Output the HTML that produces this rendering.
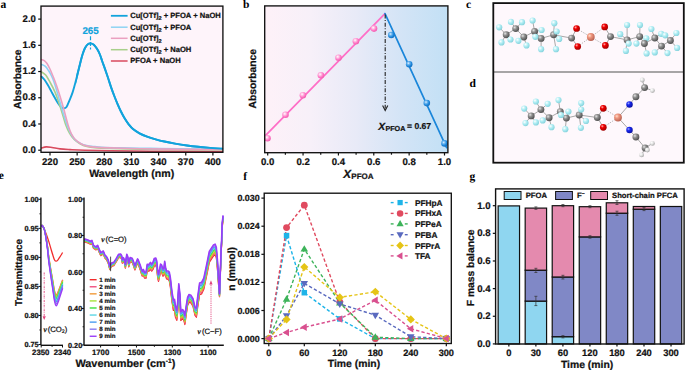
<!DOCTYPE html>
<html><head><meta charset="utf-8"><title>Figure</title>
<style>html,body{margin:0;padding:0;background:#fff;width:685px;height:370px;overflow:hidden}svg{display:block}</style>
</head><body>
<svg width="685" height="370" viewBox="0 0 685 370" font-family="Liberation Sans" text-rendering="geometricPrecision">
<rect x="0" y="0" width="685" height="370" fill="#fff"/>
<defs>
<linearGradient id="bgb" x1="0" y1="0" x2="1" y2="0">
<stop offset="0" stop-color="#FEF1F8"/><stop offset="0.25" stop-color="#F7F0F9"/><stop offset="0.5" stop-color="#E8EAF7"/><stop offset="0.75" stop-color="#D3E4F6"/><stop offset="1" stop-color="#C2E0F5"/>
</linearGradient>
<radialGradient id="sp_pink" cx="0.38" cy="0.35" r="0.65"><stop offset="0" stop-color="#FFFFFF"/><stop offset="0.3" stop-color="#FFC0E4"/><stop offset="0.7" stop-color="#FF74C4"/><stop offset="1" stop-color="#F060B0"/></radialGradient>
<radialGradient id="sp_blue" cx="0.38" cy="0.35" r="0.65"><stop offset="0" stop-color="#E0F0FF"/><stop offset="0.3" stop-color="#70B8F0"/><stop offset="0.7" stop-color="#1E88DC"/><stop offset="1" stop-color="#1570C0"/></radialGradient>
<radialGradient id="at_F" cx="0.35" cy="0.33" r="0.7"><stop offset="0" stop-color="#FFFFFF"/><stop offset="0.45" stop-color="#B2EEF4"/><stop offset="1" stop-color="#84D2DC"/></radialGradient>
<radialGradient id="at_C" cx="0.35" cy="0.33" r="0.7"><stop offset="0" stop-color="#E4E4E4"/><stop offset="0.4" stop-color="#8E8E8E"/><stop offset="1" stop-color="#4E4E4E"/></radialGradient>
<radialGradient id="at_O" cx="0.35" cy="0.33" r="0.7"><stop offset="0" stop-color="#FFB0B0"/><stop offset="0.35" stop-color="#F00000"/><stop offset="1" stop-color="#A00000"/></radialGradient>
<radialGradient id="at_Cu" cx="0.35" cy="0.33" r="0.7"><stop offset="0" stop-color="#FFE0D0"/><stop offset="0.35" stop-color="#F09880"/><stop offset="1" stop-color="#B86050"/></radialGradient>
<radialGradient id="at_N" cx="0.35" cy="0.33" r="0.7"><stop offset="0" stop-color="#A0A8FF"/><stop offset="0.35" stop-color="#1828F0"/><stop offset="1" stop-color="#0810A0"/></radialGradient>
<radialGradient id="at_H" cx="0.35" cy="0.33" r="0.7"><stop offset="0" stop-color="#FFFFFF"/><stop offset="0.4" stop-color="#E8E8E8"/><stop offset="1" stop-color="#A8A8A8"/></radialGradient>
</defs>
<rect x="41.00" y="6.10" width="181.90" height="146.20" fill="#FEF4FA"/>
<g fill="none" stroke-linejoin="round" stroke-linecap="round">
<clipPath id="cpa"><rect x="76" y="0" width="160" height="160"/></clipPath>
<path d="M41.60,76.70 C42.08,77.20 43.43,78.27 44.50,79.70 C45.57,81.13 46.85,83.32 48.00,85.30 C49.15,87.28 50.27,89.52 51.40,91.60 C52.53,93.68 53.67,95.82 54.80,97.80 C55.93,99.78 57.17,101.98 58.20,103.50 C59.23,105.02 60.05,106.10 61.00,106.90 C61.95,107.70 62.98,108.28 63.90,108.30 C64.82,108.32 65.57,108.33 66.50,107.00 C67.43,105.67 68.48,102.73 69.50,100.30 C70.52,97.87 71.62,95.37 72.60,92.40 C73.58,89.43 74.47,86.02 75.40,82.50 C76.33,78.98 77.32,74.85 78.20,71.30 C79.08,67.75 79.97,64.05 80.70,61.20 C81.43,58.35 81.90,56.37 82.60,54.20 C83.30,52.03 84.05,49.83 84.90,48.20 C85.75,46.57 86.77,45.20 87.70,44.40 C88.63,43.60 89.48,43.35 90.50,43.40 C91.52,43.45 92.72,43.80 93.80,44.70 C94.88,45.60 95.98,47.17 97.00,48.80 C98.02,50.43 99.02,52.38 99.90,54.50 C100.78,56.62 101.50,59.23 102.30,61.50 C103.10,63.77 103.75,65.38 104.70,68.10 C105.65,70.82 106.92,74.55 108.00,77.80 C109.08,81.05 110.12,84.48 111.20,87.60 C112.28,90.72 113.42,93.70 114.50,96.50 C115.58,99.30 116.67,101.98 117.70,104.40 C118.73,106.82 119.60,108.77 120.70,111.00 C121.80,113.23 122.97,115.58 124.30,117.80 C125.63,120.02 127.25,122.42 128.70,124.30 C130.15,126.18 131.20,127.60 133.00,129.10 C134.80,130.60 137.15,132.05 139.50,133.30 C141.85,134.55 144.40,135.60 147.10,136.60 C149.80,137.60 152.82,138.48 155.70,139.30 C158.58,140.12 161.18,140.78 164.40,141.50 C167.62,142.22 171.23,142.93 175.00,143.60 C178.77,144.27 183.17,144.97 187.00,145.50 C190.83,146.03 193.73,146.37 198.00,146.80 C202.27,147.23 208.57,147.78 212.60,148.10 C216.63,148.42 220.60,148.60 222.20,148.70" stroke="#12A3DC" stroke-width="1.9"/>
<path d="M41.60,148.10 C42.37,147.90 44.47,147.00 46.20,146.90 C47.93,146.80 49.70,147.17 52.00,147.50 C54.30,147.83 57.00,148.55 60.00,148.90 C63.00,149.25 65.83,149.37 70.00,149.60 C74.17,149.83 78.33,150.10 85.00,150.30 C91.67,150.50 99.17,150.65 110.00,150.80 C120.83,150.95 131.30,151.08 150.00,151.20 C168.70,151.32 210.17,151.45 222.20,151.50" stroke="#D94A5E" stroke-width="1.6"/>
<path d="M41.60,72.00 C42.28,72.52 44.27,73.35 45.70,75.10 C47.13,76.85 48.68,79.75 50.20,82.50 C51.72,85.25 53.47,88.57 54.80,91.60 C56.13,94.63 57.17,97.75 58.20,100.70 C59.23,103.65 60.12,106.50 61.00,109.30 C61.88,112.10 62.67,114.80 63.50,117.50 C64.33,120.20 65.00,122.88 66.00,125.50 C67.00,128.12 68.17,130.90 69.50,133.20 C70.83,135.50 72.25,137.53 74.00,139.30 C75.75,141.07 77.83,142.58 80.00,143.80 C82.17,145.02 84.50,145.93 87.00,146.60 C89.50,147.27 91.17,147.48 95.00,147.80 C98.83,148.12 102.50,148.28 110.00,148.50 C117.50,148.72 128.33,148.93 140.00,149.10 C151.67,149.27 166.30,149.38 180.00,149.50 C193.70,149.62 215.17,149.75 222.20,149.80" stroke="#A8CF8A" stroke-width="1.6"/>
<path d="M41.60,64.50 C42.23,64.82 44.25,65.40 45.40,66.40 C46.55,67.40 47.60,69.15 48.50,70.50 C49.40,71.85 50.05,73.03 50.80,74.50 C51.55,75.97 52.28,77.50 53.00,79.30 C53.72,81.10 54.30,82.77 55.10,85.30 C55.90,87.83 56.90,91.38 57.80,94.50 C58.70,97.62 59.63,101.00 60.50,104.00 C61.37,107.00 62.17,109.75 63.00,112.50 C63.83,115.25 64.67,118.00 65.50,120.50 C66.33,123.00 67.08,125.25 68.00,127.50 C68.92,129.75 69.83,131.98 71.00,134.00 C72.17,136.02 73.42,138.03 75.00,139.60 C76.58,141.17 78.57,142.42 80.50,143.40 C82.43,144.38 84.18,144.97 86.60,145.50 C89.02,146.03 92.48,146.32 95.00,146.60 C97.52,146.88 97.53,147.00 101.70,147.20 C105.87,147.40 111.95,147.60 120.00,147.80 C128.05,148.00 140.00,148.22 150.00,148.40 C160.00,148.58 167.97,148.77 180.00,148.90 C192.03,149.03 215.17,149.15 222.20,149.20" stroke="#8ED3F3" stroke-width="1.6"/>
<path d="M41.60,59.50 C42.05,59.68 43.40,59.93 44.30,60.60 C45.20,61.27 46.02,62.02 47.00,63.50 C47.98,64.98 49.28,67.58 50.20,69.50 C51.12,71.42 51.73,73.12 52.50,75.00 C53.27,76.88 53.85,78.22 54.80,80.80 C55.75,83.38 57.17,87.38 58.20,90.50 C59.23,93.62 60.05,96.33 61.00,99.50 C61.95,102.67 63.03,106.37 63.90,109.50 C64.77,112.63 65.42,115.42 66.20,118.30 C66.98,121.18 67.72,124.15 68.60,126.80 C69.48,129.45 70.43,132.12 71.50,134.20 C72.57,136.28 73.43,137.70 75.00,139.30 C76.57,140.90 78.97,142.70 80.90,143.80 C82.83,144.90 84.25,145.35 86.60,145.90 C88.95,146.45 91.10,146.77 95.00,147.10 C98.90,147.43 102.50,147.63 110.00,147.90 C117.50,148.17 128.33,148.48 140.00,148.70 C151.67,148.92 166.30,149.07 180.00,149.20 C193.70,149.33 215.17,149.45 222.20,149.50" stroke="#EBA0C0" stroke-width="1.6"/>
<path d="M41.60,76.70 C42.08,77.20 43.43,78.27 44.50,79.70 C45.57,81.13 46.85,83.32 48.00,85.30 C49.15,87.28 50.27,89.52 51.40,91.60 C52.53,93.68 53.67,95.82 54.80,97.80 C55.93,99.78 57.17,101.98 58.20,103.50 C59.23,105.02 60.05,106.10 61.00,106.90 C61.95,107.70 62.98,108.28 63.90,108.30 C64.82,108.32 65.57,108.33 66.50,107.00 C67.43,105.67 68.48,102.73 69.50,100.30 C70.52,97.87 71.62,95.37 72.60,92.40 C73.58,89.43 74.47,86.02 75.40,82.50 C76.33,78.98 77.32,74.85 78.20,71.30 C79.08,67.75 79.97,64.05 80.70,61.20 C81.43,58.35 81.90,56.37 82.60,54.20 C83.30,52.03 84.05,49.83 84.90,48.20 C85.75,46.57 86.77,45.20 87.70,44.40 C88.63,43.60 89.48,43.35 90.50,43.40 C91.52,43.45 92.72,43.80 93.80,44.70 C94.88,45.60 95.98,47.17 97.00,48.80 C98.02,50.43 99.02,52.38 99.90,54.50 C100.78,56.62 101.50,59.23 102.30,61.50 C103.10,63.77 103.75,65.38 104.70,68.10 C105.65,70.82 106.92,74.55 108.00,77.80 C109.08,81.05 110.12,84.48 111.20,87.60 C112.28,90.72 113.42,93.70 114.50,96.50 C115.58,99.30 116.67,101.98 117.70,104.40 C118.73,106.82 119.60,108.77 120.70,111.00 C121.80,113.23 122.97,115.58 124.30,117.80 C125.63,120.02 127.25,122.42 128.70,124.30 C130.15,126.18 131.20,127.60 133.00,129.10 C134.80,130.60 137.15,132.05 139.50,133.30 C141.85,134.55 144.40,135.60 147.10,136.60 C149.80,137.60 152.82,138.48 155.70,139.30 C158.58,140.12 161.18,140.78 164.40,141.50 C167.62,142.22 171.23,142.93 175.00,143.60 C178.77,144.27 183.17,144.97 187.00,145.50 C190.83,146.03 193.73,146.37 198.00,146.80 C202.27,147.23 208.57,147.78 212.60,148.10 C216.63,148.42 220.60,148.60 222.20,148.70" stroke="#12A3DC" stroke-width="1.9" clip-path="url(#cpa)"/>
</g>
<line x1="90.50" y1="36.20" x2="90.50" y2="49.60" stroke="#12A3DC" stroke-width="1.20" stroke-dasharray="4.1,1.6"/>
<text x="90.60" y="34.10" font-size="9.80" text-anchor="middle" font-weight="bold" fill="#12A3DC" font-family="Liberation Sans" font-style="normal" stroke="#12A3DC" stroke-width="0.22" >265</text>
<line x1="110.90" y1="15.80" x2="127.60" y2="15.80" stroke="#12A3DC" stroke-width="1.80" />
<text x="130.20" y="18.20" font-size="7.60" text-anchor="start" font-weight="bold" fill="#111" font-family="Liberation Sans" font-style="normal" stroke="#111" stroke-width="0.22" >Cu[OTf]<tspan font-size="5.6" dy="1.9">2</tspan><tspan dy="-1.9"> + PFOA + NaOH</tspan></text>
<line x1="110.90" y1="27.20" x2="127.60" y2="27.20" stroke="#8ED3F3" stroke-width="1.50" />
<text x="130.20" y="29.60" font-size="7.60" text-anchor="start" font-weight="bold" fill="#111" font-family="Liberation Sans" font-style="normal" stroke="#111" stroke-width="0.22" >Cu[OTf]<tspan font-size="5.6" dy="1.9">2</tspan><tspan dy="-1.9"> + PFOA</tspan></text>
<line x1="110.90" y1="38.30" x2="127.60" y2="38.30" stroke="#EBA0C0" stroke-width="1.50" />
<text x="130.20" y="40.70" font-size="7.60" text-anchor="start" font-weight="bold" fill="#111" font-family="Liberation Sans" font-style="normal" stroke="#111" stroke-width="0.22" >Cu[OTf]<tspan font-size="5.6" dy="1.9">2</tspan></text>
<line x1="110.90" y1="49.70" x2="127.60" y2="49.70" stroke="#A8CF8A" stroke-width="1.50" />
<text x="130.20" y="52.10" font-size="7.60" text-anchor="start" font-weight="bold" fill="#111" font-family="Liberation Sans" font-style="normal" stroke="#111" stroke-width="0.22" >Cu[OTf]<tspan font-size="5.6" dy="1.9">2</tspan><tspan dy="-1.9"> + NaOH</tspan></text>
<line x1="110.90" y1="61.00" x2="127.60" y2="61.00" stroke="#D94A5E" stroke-width="1.50" />
<text x="130.20" y="63.40" font-size="7.60" text-anchor="start" font-weight="bold" fill="#111" font-family="Liberation Sans" font-style="normal" stroke="#111" stroke-width="0.22" >PFOA + NaOH</text>
<rect x="41.00" y="6.10" width="181.90" height="146.20" fill="none" stroke="#111" stroke-width="1.35"/>
<line x1="38.20" y1="150.20" x2="41.00" y2="150.20" stroke="#111" stroke-width="1.20" />
<text x="35.90" y="152.80" font-size="9.60" text-anchor="end" font-weight="bold" fill="#111" font-family="Liberation Sans" font-style="normal" stroke="#111" stroke-width="0.22" >0.0</text>
<line x1="38.20" y1="123.98" x2="41.00" y2="123.98" stroke="#111" stroke-width="1.20" />
<text x="35.90" y="126.58" font-size="9.60" text-anchor="end" font-weight="bold" fill="#111" font-family="Liberation Sans" font-style="normal" stroke="#111" stroke-width="0.22" >0.4</text>
<line x1="38.20" y1="97.76" x2="41.00" y2="97.76" stroke="#111" stroke-width="1.20" />
<text x="35.90" y="100.36" font-size="9.60" text-anchor="end" font-weight="bold" fill="#111" font-family="Liberation Sans" font-style="normal" stroke="#111" stroke-width="0.22" >0.8</text>
<line x1="38.20" y1="71.54" x2="41.00" y2="71.54" stroke="#111" stroke-width="1.20" />
<text x="35.90" y="74.14" font-size="9.60" text-anchor="end" font-weight="bold" fill="#111" font-family="Liberation Sans" font-style="normal" stroke="#111" stroke-width="0.22" >1.2</text>
<line x1="38.20" y1="45.32" x2="41.00" y2="45.32" stroke="#111" stroke-width="1.20" />
<text x="35.90" y="47.92" font-size="9.60" text-anchor="end" font-weight="bold" fill="#111" font-family="Liberation Sans" font-style="normal" stroke="#111" stroke-width="0.22" >1.6</text>
<line x1="38.20" y1="19.10" x2="41.00" y2="19.10" stroke="#111" stroke-width="1.20" />
<text x="35.90" y="21.70" font-size="9.60" text-anchor="end" font-weight="bold" fill="#111" font-family="Liberation Sans" font-style="normal" stroke="#111" stroke-width="0.22" >2.0</text>
<line x1="50.00" y1="152.30" x2="50.00" y2="155.60" stroke="#111" stroke-width="1.20" />
<text x="50.00" y="165.00" font-size="9.60" text-anchor="middle" font-weight="bold" fill="#111" font-family="Liberation Sans" font-style="normal" stroke="#111" stroke-width="0.22" >220</text>
<line x1="77.15" y1="152.30" x2="77.15" y2="155.60" stroke="#111" stroke-width="1.20" />
<text x="77.15" y="165.00" font-size="9.60" text-anchor="middle" font-weight="bold" fill="#111" font-family="Liberation Sans" font-style="normal" stroke="#111" stroke-width="0.22" >250</text>
<line x1="104.30" y1="152.30" x2="104.30" y2="155.60" stroke="#111" stroke-width="1.20" />
<text x="104.30" y="165.00" font-size="9.60" text-anchor="middle" font-weight="bold" fill="#111" font-family="Liberation Sans" font-style="normal" stroke="#111" stroke-width="0.22" >280</text>
<line x1="131.45" y1="152.30" x2="131.45" y2="155.60" stroke="#111" stroke-width="1.20" />
<text x="131.45" y="165.00" font-size="9.60" text-anchor="middle" font-weight="bold" fill="#111" font-family="Liberation Sans" font-style="normal" stroke="#111" stroke-width="0.22" >310</text>
<line x1="158.60" y1="152.30" x2="158.60" y2="155.60" stroke="#111" stroke-width="1.20" />
<text x="158.60" y="165.00" font-size="9.60" text-anchor="middle" font-weight="bold" fill="#111" font-family="Liberation Sans" font-style="normal" stroke="#111" stroke-width="0.22" >340</text>
<line x1="185.75" y1="152.30" x2="185.75" y2="155.60" stroke="#111" stroke-width="1.20" />
<text x="185.75" y="165.00" font-size="9.60" text-anchor="middle" font-weight="bold" fill="#111" font-family="Liberation Sans" font-style="normal" stroke="#111" stroke-width="0.22" >370</text>
<line x1="212.90" y1="152.30" x2="212.90" y2="155.60" stroke="#111" stroke-width="1.20" />
<text x="212.90" y="165.00" font-size="9.60" text-anchor="middle" font-weight="bold" fill="#111" font-family="Liberation Sans" font-style="normal" stroke="#111" stroke-width="0.22" >400</text>
<text x="131.70" y="176.60" font-size="10.60" text-anchor="middle" font-weight="bold" fill="#111" font-family="Liberation Sans" font-style="normal" stroke="#111" stroke-width="0.22" >Wavelength (nm)</text>
<text x="0.00" y="0.00" font-size="10.30" text-anchor="middle" font-weight="bold" fill="#111" font-family="Liberation Sans" font-style="normal" stroke="#111" stroke-width="0.22" transform="translate(21.3,79.2) rotate(-90)">Absorbance</text>
<text x="0.60" y="7.60" font-size="11.5" font-weight="bold" font-family="Liberation Serif" fill="#000">a</text>
<rect x="264.70" y="5.90" width="183.20" height="146.80" fill="url(#bgb)"/>
<line x1="264.90" y1="136.20" x2="385.00" y2="13.60" stroke="#FF6EC7" stroke-width="1.70" stroke-linecap="round"/>
<line x1="385.00" y1="13.60" x2="446.60" y2="147.60" stroke="#1A86DA" stroke-width="1.70" stroke-linecap="round"/>
<line x1="385.20" y1="14.50" x2="385.20" y2="108.50" stroke="#222" stroke-width="1.10" stroke-dasharray="4,1.6,1,1.6"/>
<path d="M382.6,105.6 L385.2,110.6 L387.8,105.6" fill="none" stroke="#222" stroke-width="1.1"/>
<circle cx="267.50" cy="138.30" r="3.3" fill="url(#sp_pink)"/>
<circle cx="285.50" cy="114.80" r="3.3" fill="url(#sp_pink)"/>
<circle cx="302.90" cy="95.20" r="3.3" fill="url(#sp_pink)"/>
<circle cx="320.90" cy="75.30" r="3.3" fill="url(#sp_pink)"/>
<circle cx="338.50" cy="57.70" r="3.3" fill="url(#sp_pink)"/>
<circle cx="355.90" cy="41.20" r="3.3" fill="url(#sp_pink)"/>
<circle cx="374.00" cy="28.60" r="3.3" fill="url(#sp_pink)"/>
<circle cx="391.30" cy="35.00" r="3.3" fill="url(#sp_blue)"/>
<circle cx="409.20" cy="64.20" r="3.3" fill="url(#sp_blue)"/>
<circle cx="426.80" cy="103.10" r="3.3" fill="url(#sp_blue)"/>
<circle cx="444.50" cy="143.40" r="3.3" fill="url(#sp_blue)"/>
<rect x="264.70" y="5.90" width="183.20" height="146.80" fill="none" stroke="#111" stroke-width="1.35"/>
<line x1="267.70" y1="152.70" x2="267.70" y2="155.50" stroke="#111" stroke-width="1.20" />
<text x="267.70" y="165.20" font-size="9.60" text-anchor="middle" font-weight="bold" fill="#111" font-family="Liberation Sans" font-style="normal" stroke="#111" stroke-width="0.22" >0.0</text>
<line x1="285.38" y1="152.70" x2="285.38" y2="154.70" stroke="#111" stroke-width="1.20" />
<line x1="303.06" y1="152.70" x2="303.06" y2="155.50" stroke="#111" stroke-width="1.20" />
<text x="303.06" y="165.20" font-size="9.60" text-anchor="middle" font-weight="bold" fill="#111" font-family="Liberation Sans" font-style="normal" stroke="#111" stroke-width="0.22" >0.2</text>
<line x1="320.74" y1="152.70" x2="320.74" y2="154.70" stroke="#111" stroke-width="1.20" />
<line x1="338.42" y1="152.70" x2="338.42" y2="155.50" stroke="#111" stroke-width="1.20" />
<text x="338.42" y="165.20" font-size="9.60" text-anchor="middle" font-weight="bold" fill="#111" font-family="Liberation Sans" font-style="normal" stroke="#111" stroke-width="0.22" >0.4</text>
<line x1="356.10" y1="152.70" x2="356.10" y2="154.70" stroke="#111" stroke-width="1.20" />
<line x1="373.78" y1="152.70" x2="373.78" y2="155.50" stroke="#111" stroke-width="1.20" />
<text x="373.78" y="165.20" font-size="9.60" text-anchor="middle" font-weight="bold" fill="#111" font-family="Liberation Sans" font-style="normal" stroke="#111" stroke-width="0.22" >0.6</text>
<line x1="391.46" y1="152.70" x2="391.46" y2="154.70" stroke="#111" stroke-width="1.20" />
<line x1="409.14" y1="152.70" x2="409.14" y2="155.50" stroke="#111" stroke-width="1.20" />
<text x="409.14" y="165.20" font-size="9.60" text-anchor="middle" font-weight="bold" fill="#111" font-family="Liberation Sans" font-style="normal" stroke="#111" stroke-width="0.22" >0.8</text>
<line x1="426.82" y1="152.70" x2="426.82" y2="154.70" stroke="#111" stroke-width="1.20" />
<line x1="444.50" y1="152.70" x2="444.50" y2="155.50" stroke="#111" stroke-width="1.20" />
<text x="444.50" y="165.20" font-size="9.60" text-anchor="middle" font-weight="bold" fill="#111" font-family="Liberation Sans" font-style="normal" stroke="#111" stroke-width="0.22" >1.0</text>
<text x="343.20" y="177.80" font-size="11.70" text-anchor="start" font-weight="bold" fill="#111" font-family="Liberation Sans" font-style="italic" stroke="#111" stroke-width="0.22" >X</text>
<text x="351.30" y="178.50" font-size="8.00" text-anchor="start" font-weight="bold" fill="#111" font-family="Liberation Sans" font-style="normal" stroke="#111" stroke-width="0.22" >PFOA</text>
<text x="378.20" y="129.80" font-size="10.30" text-anchor="start" font-weight="bold" fill="#111" font-family="Liberation Sans" font-style="italic" stroke="#111" stroke-width="0.22" >X</text>
<text x="385.40" y="130.60" font-size="7.20" text-anchor="start" font-weight="bold" fill="#111" font-family="Liberation Sans" font-style="normal" stroke="#111" stroke-width="0.22" >PFOA</text>
<text x="407.00" y="129.40" font-size="8.60" text-anchor="start" font-weight="bold" fill="#111" font-family="Liberation Sans" font-style="normal" stroke="#111" stroke-width="0.22" >= 0.67</text>
<text x="0.00" y="0.00" font-size="10.30" text-anchor="middle" font-weight="bold" fill="#111" font-family="Liberation Sans" font-style="normal" stroke="#111" stroke-width="0.22" transform="translate(256.4,78.7) rotate(-90)">Absorbance</text>
<text x="243.00" y="7.60" font-size="11.5" font-weight="bold" font-family="Liberation Serif" fill="#000">b</text>
<rect x="493.30" y="3.10" width="190.50" height="159.60" fill="#FEF8FC"/>
<line x1="506.20" y1="34.70" x2="515.70" y2="28.60" stroke="#A8A8A8" stroke-width="1.00" />
<line x1="515.70" y1="28.60" x2="523.80" y2="37.00" stroke="#A8A8A8" stroke-width="1.00" />
<line x1="523.80" y1="37.00" x2="534.60" y2="31.40" stroke="#A8A8A8" stroke-width="1.00" />
<line x1="534.60" y1="31.40" x2="541.10" y2="38.40" stroke="#A8A8A8" stroke-width="1.00" />
<line x1="541.10" y1="38.40" x2="553.60" y2="34.80" stroke="#A8A8A8" stroke-width="1.00" />
<line x1="553.60" y1="34.80" x2="571.60" y2="38.10" stroke="#A8A8A8" stroke-width="1.00" />
<line x1="499.20" y1="27.30" x2="506.20" y2="34.70" stroke="#A8A8A8" stroke-width="1.00" />
<line x1="510.90" y1="21.90" x2="515.70" y2="28.60" stroke="#A8A8A8" stroke-width="1.00" />
<line x1="522.00" y1="22.20" x2="515.70" y2="28.60" stroke="#A8A8A8" stroke-width="1.00" />
<line x1="532.60" y1="20.50" x2="534.60" y2="31.40" stroke="#A8A8A8" stroke-width="1.00" />
<line x1="554.30" y1="23.20" x2="553.60" y2="34.80" stroke="#A8A8A8" stroke-width="1.00" />
<line x1="501.50" y1="42.40" x2="506.20" y2="34.70" stroke="#A8A8A8" stroke-width="1.00" />
<line x1="510.50" y1="39.50" x2="506.20" y2="34.70" stroke="#A8A8A8" stroke-width="1.00" />
<line x1="518.40" y1="40.80" x2="523.80" y2="37.00" stroke="#A8A8A8" stroke-width="1.00" />
<line x1="526.50" y1="45.40" x2="523.80" y2="37.00" stroke="#A8A8A8" stroke-width="1.00" />
<line x1="541.60" y1="30.00" x2="534.60" y2="31.40" stroke="#A8A8A8" stroke-width="1.00" />
<line x1="535.30" y1="36.80" x2="534.60" y2="31.40" stroke="#A8A8A8" stroke-width="1.00" />
<line x1="541.10" y1="49.20" x2="541.10" y2="38.40" stroke="#A8A8A8" stroke-width="1.00" />
<line x1="556.00" y1="49.20" x2="553.60" y2="34.80" stroke="#A8A8A8" stroke-width="1.00" />
<line x1="556.70" y1="31.50" x2="553.60" y2="34.80" stroke="#A8A8A8" stroke-width="1.00" />
<line x1="559.20" y1="39.00" x2="553.60" y2="34.80" stroke="#A8A8A8" stroke-width="1.00" />
<line x1="620.20" y1="34.20" x2="627.10" y2="39.90" stroke="#A8A8A8" stroke-width="1.00" />
<line x1="627.10" y1="25.00" x2="627.10" y2="39.90" stroke="#A8A8A8" stroke-width="1.00" />
<line x1="628.70" y1="43.60" x2="627.10" y2="39.90" stroke="#A8A8A8" stroke-width="1.00" />
<line x1="625.90" y1="50.90" x2="627.10" y2="39.90" stroke="#A8A8A8" stroke-width="1.00" />
<line x1="640.00" y1="25.00" x2="639.70" y2="36.60" stroke="#A8A8A8" stroke-width="1.00" />
<line x1="636.40" y1="43.60" x2="639.70" y2="36.60" stroke="#A8A8A8" stroke-width="1.00" />
<line x1="646.30" y1="38.30" x2="644.40" y2="43.50" stroke="#A8A8A8" stroke-width="1.00" />
<line x1="646.60" y1="53.40" x2="644.40" y2="43.50" stroke="#A8A8A8" stroke-width="1.00" />
<line x1="651.40" y1="29.00" x2="654.80" y2="38.00" stroke="#A8A8A8" stroke-width="1.00" />
<line x1="661.20" y1="33.80" x2="654.80" y2="38.00" stroke="#A8A8A8" stroke-width="1.00" />
<line x1="665.20" y1="35.30" x2="670.40" y2="40.50" stroke="#A8A8A8" stroke-width="1.00" />
<line x1="654.80" y1="52.40" x2="661.50" y2="46.10" stroke="#A8A8A8" stroke-width="1.00" />
<line x1="667.50" y1="53.10" x2="661.50" y2="46.10" stroke="#A8A8A8" stroke-width="1.00" />
<line x1="676.40" y1="33.00" x2="670.40" y2="40.50" stroke="#A8A8A8" stroke-width="1.00" />
<line x1="677.10" y1="47.90" x2="670.40" y2="40.50" stroke="#A8A8A8" stroke-width="1.00" />
<line x1="610.50" y1="36.60" x2="627.10" y2="39.90" stroke="#A8A8A8" stroke-width="1.00" />
<line x1="627.10" y1="39.90" x2="639.70" y2="36.60" stroke="#A8A8A8" stroke-width="1.00" />
<line x1="639.70" y1="36.60" x2="644.40" y2="43.50" stroke="#A8A8A8" stroke-width="1.00" />
<line x1="644.40" y1="43.50" x2="654.80" y2="38.00" stroke="#A8A8A8" stroke-width="1.00" />
<line x1="654.80" y1="38.00" x2="661.50" y2="46.10" stroke="#A8A8A8" stroke-width="1.00" />
<line x1="661.50" y1="46.10" x2="670.40" y2="40.50" stroke="#A8A8A8" stroke-width="1.00" />
<line x1="571.60" y1="38.10" x2="576.60" y2="28.50" stroke="#A8A8A8" stroke-width="1.00" />
<line x1="571.60" y1="38.10" x2="577.70" y2="46.50" stroke="#A8A8A8" stroke-width="1.00" />
<line x1="610.50" y1="36.60" x2="604.70" y2="26.90" stroke="#A8A8A8" stroke-width="1.00" />
<line x1="610.50" y1="36.60" x2="605.40" y2="45.40" stroke="#A8A8A8" stroke-width="1.00" />
<line x1="576.60" y1="28.50" x2="590.80" y2="37.00" stroke="#B0B0B0" stroke-width="0.90" stroke-dasharray="1.4,1.2"/>
<line x1="577.70" y1="46.50" x2="590.80" y2="37.00" stroke="#B0B0B0" stroke-width="0.90" stroke-dasharray="1.4,1.2"/>
<line x1="604.70" y1="26.90" x2="590.80" y2="37.00" stroke="#B0B0B0" stroke-width="0.90" stroke-dasharray="1.4,1.2"/>
<line x1="605.40" y1="45.40" x2="590.80" y2="37.00" stroke="#B0B0B0" stroke-width="0.90" stroke-dasharray="1.4,1.2"/>
<circle cx="499.20" cy="27.30" r="3.10" fill="url(#at_F)"/>
<circle cx="510.90" cy="21.90" r="3.10" fill="url(#at_F)"/>
<circle cx="522.00" cy="22.20" r="3.10" fill="url(#at_F)"/>
<circle cx="532.60" cy="20.50" r="3.10" fill="url(#at_F)"/>
<circle cx="554.30" cy="23.20" r="3.10" fill="url(#at_F)"/>
<circle cx="506.20" cy="34.70" r="3.45" fill="url(#at_C)"/>
<circle cx="515.70" cy="28.60" r="3.45" fill="url(#at_C)"/>
<circle cx="523.80" cy="37.00" r="3.45" fill="url(#at_C)"/>
<circle cx="534.60" cy="31.40" r="3.45" fill="url(#at_C)"/>
<circle cx="541.10" cy="38.40" r="3.45" fill="url(#at_C)"/>
<circle cx="553.60" cy="34.80" r="3.45" fill="url(#at_C)"/>
<circle cx="501.50" cy="42.40" r="3.10" fill="url(#at_F)"/>
<circle cx="510.50" cy="39.50" r="3.10" fill="url(#at_F)"/>
<circle cx="518.40" cy="40.80" r="3.10" fill="url(#at_F)"/>
<circle cx="526.50" cy="45.40" r="3.10" fill="url(#at_F)"/>
<circle cx="541.60" cy="30.00" r="3.10" fill="url(#at_F)"/>
<circle cx="535.30" cy="36.80" r="3.10" fill="url(#at_F)"/>
<circle cx="541.10" cy="49.20" r="3.10" fill="url(#at_F)"/>
<circle cx="556.00" cy="49.20" r="3.10" fill="url(#at_F)"/>
<circle cx="556.70" cy="31.50" r="3.10" fill="url(#at_F)"/>
<circle cx="559.20" cy="39.00" r="3.10" fill="url(#at_F)"/>
<circle cx="571.60" cy="38.10" r="3.45" fill="url(#at_C)"/>
<circle cx="576.60" cy="28.50" r="3.35" fill="url(#at_O)"/>
<circle cx="577.70" cy="46.50" r="3.35" fill="url(#at_O)"/>
<circle cx="590.80" cy="37.00" r="3.90" fill="url(#at_Cu)"/>
<circle cx="604.70" cy="26.90" r="3.35" fill="url(#at_O)"/>
<circle cx="605.40" cy="45.40" r="3.35" fill="url(#at_O)"/>
<circle cx="610.50" cy="36.60" r="3.45" fill="url(#at_C)"/>
<circle cx="620.20" cy="34.20" r="3.10" fill="url(#at_F)"/>
<circle cx="627.10" cy="25.00" r="3.10" fill="url(#at_F)"/>
<circle cx="627.10" cy="39.90" r="3.45" fill="url(#at_C)"/>
<circle cx="628.70" cy="43.60" r="3.10" fill="url(#at_F)"/>
<circle cx="625.90" cy="50.90" r="3.10" fill="url(#at_F)"/>
<circle cx="640.00" cy="25.00" r="3.10" fill="url(#at_F)"/>
<circle cx="639.70" cy="36.60" r="3.45" fill="url(#at_C)"/>
<circle cx="636.40" cy="43.60" r="3.10" fill="url(#at_F)"/>
<circle cx="646.30" cy="38.30" r="3.10" fill="url(#at_F)"/>
<circle cx="644.40" cy="43.50" r="3.45" fill="url(#at_C)"/>
<circle cx="646.60" cy="53.40" r="3.10" fill="url(#at_F)"/>
<circle cx="651.40" cy="29.00" r="3.10" fill="url(#at_F)"/>
<circle cx="654.80" cy="38.00" r="3.45" fill="url(#at_C)"/>
<circle cx="661.20" cy="33.80" r="3.10" fill="url(#at_F)"/>
<circle cx="665.20" cy="35.30" r="3.10" fill="url(#at_F)"/>
<circle cx="654.80" cy="52.40" r="3.10" fill="url(#at_F)"/>
<circle cx="661.50" cy="46.10" r="3.45" fill="url(#at_C)"/>
<circle cx="667.50" cy="53.10" r="3.10" fill="url(#at_F)"/>
<circle cx="670.40" cy="40.50" r="3.45" fill="url(#at_C)"/>
<circle cx="676.40" cy="33.00" r="3.10" fill="url(#at_F)"/>
<circle cx="677.10" cy="47.90" r="3.10" fill="url(#at_F)"/>
<line x1="531.20" y1="115.90" x2="540.90" y2="109.60" stroke="#A8A8A8" stroke-width="1.00" />
<line x1="540.90" y1="109.60" x2="549.10" y2="117.70" stroke="#A8A8A8" stroke-width="1.00" />
<line x1="549.10" y1="117.70" x2="560.30" y2="111.60" stroke="#A8A8A8" stroke-width="1.00" />
<line x1="560.30" y1="111.60" x2="566.40" y2="118.10" stroke="#A8A8A8" stroke-width="1.00" />
<line x1="566.40" y1="118.10" x2="579.20" y2="115.00" stroke="#A8A8A8" stroke-width="1.00" />
<line x1="579.20" y1="115.00" x2="597.30" y2="117.50" stroke="#A8A8A8" stroke-width="1.00" />
<line x1="524.20" y1="108.60" x2="531.20" y2="115.90" stroke="#A8A8A8" stroke-width="1.00" />
<line x1="535.90" y1="101.50" x2="540.90" y2="109.60" stroke="#A8A8A8" stroke-width="1.00" />
<line x1="547.70" y1="103.80" x2="540.90" y2="109.60" stroke="#A8A8A8" stroke-width="1.00" />
<line x1="558.50" y1="100.10" x2="560.30" y2="111.60" stroke="#A8A8A8" stroke-width="1.00" />
<line x1="581.20" y1="103.10" x2="579.20" y2="115.00" stroke="#A8A8A8" stroke-width="1.00" />
<line x1="525.50" y1="123.10" x2="531.20" y2="115.90" stroke="#A8A8A8" stroke-width="1.00" />
<line x1="535.90" y1="122.40" x2="531.20" y2="115.90" stroke="#A8A8A8" stroke-width="1.00" />
<line x1="542.70" y1="120.40" x2="549.10" y2="117.70" stroke="#A8A8A8" stroke-width="1.00" />
<line x1="551.50" y1="127.20" x2="549.10" y2="117.70" stroke="#A8A8A8" stroke-width="1.00" />
<line x1="568.40" y1="111.60" x2="566.40" y2="118.10" stroke="#A8A8A8" stroke-width="1.00" />
<line x1="561.00" y1="115.00" x2="560.30" y2="111.60" stroke="#A8A8A8" stroke-width="1.00" />
<line x1="565.30" y1="129.20" x2="566.40" y2="118.10" stroke="#A8A8A8" stroke-width="1.00" />
<line x1="581.20" y1="109.60" x2="579.20" y2="115.00" stroke="#A8A8A8" stroke-width="1.00" />
<line x1="586.00" y1="121.00" x2="579.20" y2="115.00" stroke="#A8A8A8" stroke-width="1.00" />
<line x1="580.90" y1="127.80" x2="579.20" y2="115.00" stroke="#A8A8A8" stroke-width="1.00" />
<line x1="597.30" y1="117.50" x2="603.30" y2="108.30" stroke="#A8A8A8" stroke-width="1.00" />
<line x1="597.30" y1="117.50" x2="603.30" y2="127.30" stroke="#A8A8A8" stroke-width="1.00" />
<line x1="618.00" y1="117.50" x2="629.50" y2="104.40" stroke="#A8A8A8" stroke-width="1.00" />
<line x1="629.50" y1="104.40" x2="635.90" y2="96.80" stroke="#A8A8A8" stroke-width="1.00" />
<line x1="635.90" y1="96.80" x2="644.60" y2="87.60" stroke="#A8A8A8" stroke-width="1.00" />
<line x1="644.60" y1="87.60" x2="642.30" y2="80.00" stroke="#A8A8A8" stroke-width="1.00" />
<line x1="644.60" y1="87.60" x2="652.40" y2="90.60" stroke="#A8A8A8" stroke-width="1.00" />
<line x1="618.00" y1="117.50" x2="629.50" y2="130.10" stroke="#A8A8A8" stroke-width="1.00" />
<line x1="629.50" y1="130.10" x2="635.90" y2="137.00" stroke="#A8A8A8" stroke-width="1.00" />
<line x1="635.90" y1="137.00" x2="645.10" y2="148.00" stroke="#A8A8A8" stroke-width="1.00" />
<line x1="645.10" y1="148.00" x2="652.40" y2="143.40" stroke="#A8A8A8" stroke-width="1.00" />
<line x1="645.10" y1="148.00" x2="647.40" y2="150.00" stroke="#A8A8A8" stroke-width="1.00" />
<line x1="645.10" y1="148.00" x2="641.60" y2="154.90" stroke="#A8A8A8" stroke-width="1.00" />
<line x1="603.30" y1="108.30" x2="618.00" y2="117.50" stroke="#B0B0B0" stroke-width="0.90" stroke-dasharray="1.4,1.2"/>
<line x1="603.30" y1="127.30" x2="618.00" y2="117.50" stroke="#B0B0B0" stroke-width="0.90" stroke-dasharray="1.4,1.2"/>
<circle cx="524.20" cy="108.60" r="3.10" fill="url(#at_F)"/>
<circle cx="535.90" cy="101.50" r="3.10" fill="url(#at_F)"/>
<circle cx="547.70" cy="103.80" r="3.10" fill="url(#at_F)"/>
<circle cx="558.50" cy="100.10" r="3.10" fill="url(#at_F)"/>
<circle cx="581.20" cy="103.10" r="3.10" fill="url(#at_F)"/>
<circle cx="531.20" cy="115.90" r="3.45" fill="url(#at_C)"/>
<circle cx="540.90" cy="109.60" r="3.45" fill="url(#at_C)"/>
<circle cx="549.10" cy="117.70" r="3.45" fill="url(#at_C)"/>
<circle cx="560.30" cy="111.60" r="3.45" fill="url(#at_C)"/>
<circle cx="566.40" cy="118.10" r="3.45" fill="url(#at_C)"/>
<circle cx="579.20" cy="115.00" r="3.45" fill="url(#at_C)"/>
<circle cx="525.50" cy="123.10" r="3.10" fill="url(#at_F)"/>
<circle cx="535.90" cy="122.40" r="3.10" fill="url(#at_F)"/>
<circle cx="542.70" cy="120.40" r="3.10" fill="url(#at_F)"/>
<circle cx="551.50" cy="127.20" r="3.10" fill="url(#at_F)"/>
<circle cx="568.40" cy="111.60" r="3.10" fill="url(#at_F)"/>
<circle cx="561.00" cy="115.00" r="3.10" fill="url(#at_F)"/>
<circle cx="565.30" cy="129.20" r="3.10" fill="url(#at_F)"/>
<circle cx="581.20" cy="109.60" r="3.10" fill="url(#at_F)"/>
<circle cx="586.00" cy="121.00" r="3.10" fill="url(#at_F)"/>
<circle cx="580.90" cy="127.80" r="3.10" fill="url(#at_F)"/>
<circle cx="597.30" cy="117.50" r="3.45" fill="url(#at_C)"/>
<circle cx="603.30" cy="108.30" r="3.35" fill="url(#at_O)"/>
<circle cx="603.30" cy="127.30" r="3.35" fill="url(#at_O)"/>
<circle cx="618.00" cy="117.50" r="3.90" fill="url(#at_Cu)"/>
<circle cx="629.50" cy="104.40" r="3.25" fill="url(#at_N)"/>
<circle cx="635.90" cy="96.80" r="3.45" fill="url(#at_C)"/>
<circle cx="644.60" cy="87.60" r="3.45" fill="url(#at_C)"/>
<circle cx="642.30" cy="80.00" r="2.45" fill="url(#at_H)"/>
<circle cx="652.40" cy="90.60" r="2.45" fill="url(#at_H)"/>
<circle cx="629.50" cy="130.10" r="3.25" fill="url(#at_N)"/>
<circle cx="635.90" cy="137.00" r="3.45" fill="url(#at_C)"/>
<circle cx="645.10" cy="148.00" r="3.45" fill="url(#at_C)"/>
<circle cx="652.40" cy="143.40" r="2.45" fill="url(#at_H)"/>
<circle cx="647.40" cy="150.00" r="2.45" fill="url(#at_H)"/>
<circle cx="641.60" cy="154.90" r="2.45" fill="url(#at_H)"/>
<line x1="493.30" y1="72.00" x2="683.80" y2="72.00" stroke="#8A8A8A" stroke-width="1.50" />
<rect x="493.30" y="3.10" width="190.50" height="159.60" fill="none" stroke="#111" stroke-width="1.8"/>
<text x="466.00" y="7.80" font-size="11.5" font-weight="bold" font-family="Liberation Serif" fill="#000">c</text>
<text x="469.60" y="87.40" font-size="11.5" font-weight="bold" font-family="Liberation Serif" fill="#000">d</text>
<g fill="none" stroke-width="1.3" stroke-linejoin="round">
<path d="M41.50,226.50 C41.62,226.33 41.65,224.83 42.20,225.50 C42.75,226.17 43.80,228.15 44.80,230.50 C45.80,232.85 47.07,236.18 48.20,239.60 C49.33,243.02 50.58,247.68 51.60,251.00 C52.62,254.32 53.57,257.80 54.30,259.50 C55.03,261.20 55.38,261.15 56.00,261.20 C56.62,261.25 57.25,260.67 58.00,259.80 C58.75,258.93 59.73,257.22 60.50,256.00 C61.27,254.78 62.25,253.08 62.60,252.50" stroke="#F22B2B"/>
<path d="M41.50,226.50 C41.62,226.33 41.73,225.08 42.20,225.50 C42.67,225.92 43.67,227.11 44.30,229.00 C44.93,230.89 45.43,233.74 46.00,236.85 C46.57,239.95 47.23,244.25 47.70,247.63 C48.17,251.01 48.25,253.28 48.80,257.11 C49.35,260.95 50.32,266.57 51.00,270.65 C51.68,274.74 52.33,278.31 52.90,281.61 C53.47,284.90 53.87,288.20 54.40,290.40 C54.93,292.60 55.50,294.53 56.10,294.80 C56.70,295.07 57.37,293.32 58.00,292.04 C58.63,290.76 59.12,289.18 59.90,287.12 C60.68,285.07 62.23,280.94 62.70,279.71" stroke="#F0507E"/>
<path d="M41.50,226.50 C41.62,226.33 41.73,225.08 42.20,225.50 C42.67,225.92 43.67,227.12 44.30,229.03 C44.93,230.94 45.43,233.82 46.00,236.95 C46.57,240.09 47.23,244.43 47.70,247.84 C48.17,251.26 48.25,253.55 48.80,257.43 C49.35,261.30 50.32,266.98 51.00,271.11 C51.68,275.23 52.33,278.85 52.90,282.17 C53.47,285.50 53.87,288.84 54.40,291.06 C54.93,293.28 55.50,295.22 56.10,295.50 C56.70,295.78 57.37,294.00 58.00,292.71 C58.63,291.42 59.12,289.82 59.90,287.75 C60.68,285.67 62.23,281.50 62.70,280.25" stroke="#F29A38"/>
<path d="M41.50,226.50 C41.62,226.33 41.73,225.07 42.20,225.50 C42.67,225.93 43.67,227.13 44.30,229.07 C44.93,231.02 45.43,233.96 46.00,237.15 C46.57,240.35 47.23,244.77 47.70,248.25 C48.17,251.72 48.25,254.06 48.80,258.01 C49.35,261.96 50.32,267.75 51.00,271.95 C51.68,276.15 52.33,279.83 52.90,283.22 C53.47,286.61 53.87,290.01 54.40,292.27 C54.93,294.54 55.50,296.52 56.10,296.80 C56.70,297.08 57.37,295.28 58.00,293.96 C58.63,292.64 59.12,291.02 59.90,288.90 C60.68,286.78 62.23,282.54 62.70,281.27" stroke="#A8E23A"/>
<path d="M41.50,226.50 C41.62,226.33 41.73,225.06 42.20,225.50 C42.67,225.94 43.67,227.15 44.30,229.13 C44.93,231.12 45.43,234.13 46.00,237.39 C46.57,240.66 47.23,245.19 47.70,248.74 C48.17,252.30 48.25,254.69 48.80,258.73 C49.35,262.77 50.32,268.68 51.00,272.98 C51.68,277.28 52.33,281.05 52.90,284.51 C53.47,287.98 53.87,291.46 54.40,293.77 C54.93,296.09 55.50,298.11 56.10,298.40 C56.70,298.69 57.37,296.84 58.00,295.49 C58.63,294.15 59.12,292.48 59.90,290.32 C60.68,288.16 62.23,283.81 62.70,282.51" stroke="#3CE03C"/>
<path d="M41.50,226.50 C41.62,226.33 41.73,225.05 42.20,225.50 C42.67,225.95 43.67,227.17 44.30,229.19 C44.93,231.21 45.43,234.30 46.00,237.64 C46.57,240.98 47.23,245.60 47.70,249.24 C48.17,252.87 48.25,255.32 48.80,259.45 C49.35,263.57 50.32,269.62 51.00,274.02 C51.68,278.41 52.33,282.26 52.90,285.80 C53.47,289.34 53.87,292.90 54.40,295.27 C54.93,297.63 55.50,299.71 56.10,300.00 C56.70,300.29 57.37,298.41 58.00,297.03 C58.63,295.65 59.12,293.95 59.90,291.74 C60.68,289.53 62.23,285.09 62.70,283.76" stroke="#5CD6E4"/>
<path d="M41.50,226.50 C41.62,226.33 41.73,225.04 42.20,225.50 C42.67,225.96 43.67,227.19 44.30,229.25 C44.93,231.31 45.43,234.47 46.00,237.88 C46.57,241.29 47.23,246.02 47.70,249.73 C48.17,253.45 48.25,255.94 48.80,260.16 C49.35,264.38 50.32,270.56 51.00,275.05 C51.68,279.54 52.33,283.47 52.90,287.09 C53.47,290.71 53.87,294.35 54.40,296.76 C54.93,299.18 55.50,301.30 56.10,301.60 C56.70,301.90 57.37,299.97 58.00,298.57 C58.63,297.16 59.12,295.42 59.90,293.16 C60.68,290.90 62.23,286.37 62.70,285.01" stroke="#4A9CF2"/>
<path d="M41.50,226.50 C41.62,226.33 41.73,225.03 42.20,225.50 C42.67,225.97 43.67,227.21 44.30,229.32 C44.93,231.43 45.43,234.67 46.00,238.17 C46.57,241.67 47.23,246.51 47.70,250.32 C48.17,254.13 48.25,256.69 48.80,261.01 C49.35,265.34 50.32,271.68 51.00,276.28 C51.68,280.88 52.33,284.91 52.90,288.62 C53.47,292.34 53.87,296.06 54.40,298.54 C54.93,301.02 55.50,303.19 56.10,303.50 C56.70,303.81 57.37,301.83 58.00,300.39 C58.63,298.95 59.12,297.16 59.90,294.85 C60.68,292.53 62.23,287.88 62.70,286.49" stroke="#8878F0"/>
<path d="M41.50,226.50 C41.62,226.33 41.73,225.02 42.20,225.50 C42.67,225.98 43.67,227.23 44.30,229.40 C44.93,231.57 45.43,234.90 46.00,238.50 C46.57,242.10 47.23,247.08 47.70,251.00 C48.17,254.92 48.25,257.55 48.80,262.00 C49.35,266.45 50.32,272.97 51.00,277.70 C51.68,282.43 52.33,286.58 52.90,290.40 C53.47,294.22 53.87,298.05 54.40,300.60 C54.93,303.15 55.50,305.38 56.10,305.70 C56.70,306.02 57.37,303.98 58.00,302.50 C58.63,301.02 59.12,299.18 59.90,296.80 C60.68,294.42 62.23,289.63 62.70,288.20" stroke="#9A3CF8"/>
</g>
<line x1="40.90" y1="197.50" x2="40.90" y2="345.30" stroke="#111" stroke-width="1.40" />
<line x1="40.90" y1="345.30" x2="63.00" y2="345.30" stroke="#111" stroke-width="1.40" />
<line x1="38.40" y1="199.30" x2="40.90" y2="199.30" stroke="#111" stroke-width="1.00" />
<text x="38.60" y="201.80" font-size="7.30" text-anchor="end" font-weight="bold" fill="#111" font-family="Liberation Sans" font-style="normal" stroke="#111" stroke-width="0.22" >1.00</text>
<line x1="39.40" y1="213.82" x2="40.90" y2="213.82" stroke="#111" stroke-width="0.90" />
<line x1="38.40" y1="228.34" x2="40.90" y2="228.34" stroke="#111" stroke-width="1.00" />
<text x="38.60" y="230.84" font-size="7.30" text-anchor="end" font-weight="bold" fill="#111" font-family="Liberation Sans" font-style="normal" stroke="#111" stroke-width="0.22" >0.95</text>
<line x1="39.40" y1="242.86" x2="40.90" y2="242.86" stroke="#111" stroke-width="0.90" />
<line x1="38.40" y1="257.38" x2="40.90" y2="257.38" stroke="#111" stroke-width="1.00" />
<text x="38.60" y="259.88" font-size="7.30" text-anchor="end" font-weight="bold" fill="#111" font-family="Liberation Sans" font-style="normal" stroke="#111" stroke-width="0.22" >0.90</text>
<line x1="39.40" y1="271.90" x2="40.90" y2="271.90" stroke="#111" stroke-width="0.90" />
<line x1="38.40" y1="286.42" x2="40.90" y2="286.42" stroke="#111" stroke-width="1.00" />
<text x="38.60" y="288.92" font-size="7.30" text-anchor="end" font-weight="bold" fill="#111" font-family="Liberation Sans" font-style="normal" stroke="#111" stroke-width="0.22" >0.85</text>
<line x1="39.40" y1="300.94" x2="40.90" y2="300.94" stroke="#111" stroke-width="0.90" />
<line x1="38.40" y1="315.46" x2="40.90" y2="315.46" stroke="#111" stroke-width="1.00" />
<text x="38.60" y="317.96" font-size="7.30" text-anchor="end" font-weight="bold" fill="#111" font-family="Liberation Sans" font-style="normal" stroke="#111" stroke-width="0.22" >0.80</text>
<line x1="39.40" y1="329.98" x2="40.90" y2="329.98" stroke="#111" stroke-width="0.90" />
<line x1="38.40" y1="344.50" x2="40.90" y2="344.50" stroke="#111" stroke-width="1.00" />
<text x="38.60" y="347.00" font-size="7.30" text-anchor="end" font-weight="bold" fill="#111" font-family="Liberation Sans" font-style="normal" stroke="#111" stroke-width="0.22" >0.75</text>
<line x1="41.20" y1="345.30" x2="41.20" y2="347.50" stroke="#111" stroke-width="1.00" />
<line x1="52.10" y1="345.30" x2="52.10" y2="346.80" stroke="#111" stroke-width="1.00" />
<line x1="62.50" y1="345.30" x2="62.50" y2="347.50" stroke="#111" stroke-width="1.00" />
<text x="40.80" y="354.70" font-size="7.80" text-anchor="middle" font-weight="bold" fill="#111" font-family="Liberation Sans" font-style="normal" stroke="#111" stroke-width="0.22" >2350</text>
<text x="62.40" y="354.70" font-size="7.80" text-anchor="middle" font-weight="bold" fill="#111" font-family="Liberation Sans" font-style="normal" stroke="#111" stroke-width="0.22" >2340</text>
<line x1="44.20" y1="272.50" x2="44.20" y2="317.50" stroke="#E0407A" stroke-width="0.90" stroke-dasharray="2,1,0.6,1"/>
<path d="M42.6,316.2 L44.2,320 L45.8,316.2 Z" fill="#E0407A"/>
<text x="43.40" y="331.90" font-size="7.70" text-anchor="start" font-weight="bold" fill="#111" font-family="Liberation Sans" font-style="normal" stroke="#111" stroke-width="0.22" ><tspan font-family="Liberation Serif" font-style="italic" font-weight="bold">&#957;</tspan><tspan font-weight="normal" dx="0.9">(CO</tspan><tspan font-weight="normal" font-size="5.2" dy="1.5">2</tspan><tspan font-weight="normal" dy="-1.5">)</tspan></text>
<g fill="none" stroke-width="1.25" stroke-linejoin="round">
<path d="M84.30,241.80 L87.90,242.90 L90.30,244.20 L91.90,243.40 L93.50,248.30 L96.00,249.90 L97.60,248.30 L99.20,252.30 L100.80,255.62 L103.30,254.08 L104.90,258.12 L106.50,259.76 L108.20,263.10 L109.80,269.64 L111.40,266.39 L113.80,265.65 L116.30,261.71 L118.70,257.67 L120.60,257.53 L121.60,259.08 L122.40,263.22 L123.40,261.27 L124.70,264.04 L125.40,268.07 L126.80,258.04 L127.80,260.79 L128.80,266.94 L130.10,261.61 L132.20,262.31 L133.50,265.78 L134.90,269.94 L136.20,266.61 L137.60,263.28 L138.40,264.62 L139.10,266.85 L140.20,269.65 L141.20,273.20 L142.30,276.18 L143.40,274.85 L144.50,278.02 L146.10,278.22 L147.20,270.60 L148.80,271.30 L150.40,269.44 L151.70,271.17 L153.10,269.21 L154.20,266.02 L155.80,265.52 L156.70,268.13 L157.70,277.73 L158.50,281.45 L159.60,276.44 L160.60,271.06 L161.70,272.27 L162.80,276.18 L163.90,275.69 L164.70,268.77 L165.70,276.01 L166.60,278.98 L168.20,279.46 L169.30,280.89 L170.40,287.16 L171.40,296.56 L172.10,302.44 L173.40,310.36 L174.50,310.10 L175.40,316.94 L176.80,320.38 L177.70,311.92 L178.80,293.28 L179.90,302.94 L180.80,320.50 L182.60,318.50 L183.90,320.50 L184.90,324.50 L186.20,314.74 L187.60,305.52 L188.90,302.43 L191.00,302.90 L193.00,306.40 L195.00,315.40 L196.40,317.22 L197.60,307.68 L199.60,294.68 L201.70,293.86 L203.80,289.34 L205.70,280.20 L207.70,270.50 L209.30,262.40 L211.40,259.10 L213.50,255.90 L215.10,254.73 L216.30,257.53 L217.40,268.61 L218.70,286.72 L219.50,296.70 L220.30,275.65 L221.10,254.65 L221.60,244.70 L222.20,227.40 L223.10,219.40" stroke="#F22B2B"/>
<path d="M84.30,241.43 L87.90,242.53 L90.30,243.82 L91.90,243.03 L93.50,247.93 L96.00,249.53 L97.60,247.93 L99.20,251.93 L100.80,255.24 L103.30,253.70 L104.90,257.73 L106.50,259.37 L108.20,262.70 L109.80,269.24 L111.40,265.97 L113.80,265.23 L116.30,261.28 L118.70,257.23 L120.60,257.09 L121.60,258.63 L122.40,262.77 L123.40,260.81 L124.70,263.57 L125.40,267.60 L126.80,257.56 L127.80,260.30 L128.80,266.45 L130.10,261.10 L132.20,261.80 L133.50,265.25 L134.90,269.41 L136.20,266.07 L137.60,262.73 L138.40,264.07 L139.10,266.30 L140.20,269.08 L141.20,272.60 L142.30,275.54 L143.40,274.18 L144.50,277.32 L146.10,277.47 L147.20,269.81 L148.80,270.46 L150.40,268.56 L151.70,270.27 L153.10,268.30 L154.20,265.09 L155.80,264.59 L156.70,267.21 L157.70,276.83 L158.50,280.56 L159.60,275.56 L160.60,270.18 L161.70,271.37 L162.80,275.27 L163.90,274.77 L164.70,267.84 L165.70,275.05 L166.60,277.98 L168.20,278.40 L169.30,279.79 L170.40,286.01 L171.40,295.37 L172.10,301.21 L173.40,309.06 L174.50,308.75 L175.40,315.59 L176.80,319.10 L177.70,310.68 L178.80,292.10 L179.90,301.81 L180.80,319.38 L182.60,317.38 L183.90,319.38 L184.90,323.38 L186.20,313.66 L187.60,304.49 L188.90,301.45 L191.00,301.95 L193.00,305.43 L195.00,314.40 L196.40,316.08 L197.60,306.42 L199.60,293.22 L201.70,292.40 L203.80,287.94 L205.70,278.82 L207.70,269.12 L209.30,261.02 L211.40,257.73 L213.50,254.53 L215.10,253.40 L216.30,256.25 L217.40,267.47 L218.70,285.94 L219.50,296.30 L220.30,275.24 L221.10,254.03 L221.60,244.11 L222.20,226.85 L223.10,218.90" stroke="#F0507E"/>
<path d="M84.30,241.05 L87.90,242.15 L90.30,243.45 L91.90,242.65 L93.50,247.55 L96.00,249.15 L97.60,247.55 L99.20,251.55 L100.80,254.86 L103.30,253.31 L104.90,257.34 L106.50,258.97 L108.20,262.30 L109.80,268.83 L111.40,265.56 L113.80,264.81 L116.30,260.86 L118.70,256.80 L120.60,256.65 L121.60,258.19 L122.40,262.31 L123.40,260.35 L124.70,263.10 L125.40,267.13 L126.80,257.08 L127.80,259.82 L128.80,265.95 L130.10,260.60 L132.20,261.28 L133.50,264.73 L134.90,268.88 L136.20,265.53 L137.60,262.19 L138.40,263.51 L139.10,265.74 L140.20,268.51 L141.20,272.00 L142.30,274.91 L143.40,273.51 L144.50,276.62 L146.10,276.72 L147.20,269.03 L148.80,269.62 L150.40,267.68 L151.70,269.38 L153.10,267.38 L154.20,264.17 L155.80,263.67 L156.70,266.30 L157.70,275.92 L158.50,279.66 L159.60,274.68 L160.60,269.30 L161.70,270.48 L162.80,274.36 L163.90,273.84 L164.70,266.90 L165.70,274.08 L166.60,276.99 L168.20,277.34 L169.30,278.69 L170.40,284.87 L171.40,294.17 L172.10,299.98 L173.40,307.77 L174.50,307.40 L175.40,314.23 L176.80,317.81 L177.70,309.44 L178.80,290.91 L179.90,300.68 L180.80,318.25 L182.60,316.25 L183.90,318.25 L184.90,322.25 L186.20,312.58 L187.60,303.47 L188.90,300.47 L191.00,301.00 L193.00,304.45 L195.00,313.40 L196.40,314.94 L197.60,305.16 L199.60,291.76 L201.70,290.94 L203.80,286.53 L205.70,277.45 L207.70,267.75 L209.30,259.65 L211.40,256.35 L213.50,253.15 L215.10,252.07 L216.30,254.98 L217.40,266.33 L218.70,285.17 L219.50,295.90 L220.30,274.84 L221.10,253.41 L221.60,243.53 L222.20,226.30 L223.10,218.40" stroke="#F29A38"/>
<path d="M84.30,240.68 L87.90,241.78 L90.30,243.07 L91.90,242.28 L93.50,247.18 L96.00,248.78 L97.60,247.18 L99.20,251.18 L100.80,254.49 L103.30,252.93 L104.90,256.95 L106.50,258.58 L108.20,261.90 L109.80,268.43 L111.40,265.15 L113.80,264.39 L116.30,260.43 L118.70,256.37 L120.60,256.21 L121.60,257.74 L122.40,261.86 L123.40,259.89 L124.70,262.63 L125.40,266.66 L126.80,256.60 L127.80,259.33 L128.80,265.46 L130.10,260.10 L132.20,260.77 L133.50,264.21 L134.90,268.35 L136.20,264.99 L137.60,261.64 L138.40,262.96 L139.10,265.18 L140.20,267.94 L141.20,271.40 L142.30,274.27 L143.40,272.84 L144.50,275.92 L146.10,275.97 L147.20,268.24 L148.80,268.79 L150.40,266.80 L151.70,268.48 L153.10,266.47 L154.20,263.24 L155.80,262.74 L156.70,265.38 L157.70,275.02 L158.50,278.77 L159.60,273.80 L160.60,268.41 L161.70,269.58 L162.80,273.45 L163.90,272.92 L164.70,265.97 L165.70,273.12 L166.60,275.99 L168.20,276.29 L169.30,277.59 L170.40,283.73 L171.40,292.98 L172.10,298.75 L173.40,306.48 L174.50,306.05 L175.40,312.88 L176.80,316.53 L177.70,308.20 L178.80,289.73 L179.90,299.55 L180.80,317.12 L182.60,315.12 L183.90,317.12 L184.90,321.12 L186.20,311.50 L187.60,302.44 L188.90,299.49 L191.00,300.05 L193.00,303.48 L195.00,312.40 L196.40,313.80 L197.60,303.90 L199.60,290.30 L201.70,289.49 L203.80,285.12 L205.70,276.07 L207.70,266.38 L209.30,258.27 L211.40,254.97 L213.50,251.78 L215.10,250.75 L216.30,253.70 L217.40,265.19 L218.70,284.39 L219.50,295.50 L220.30,274.43 L221.10,252.79 L221.60,242.94 L222.20,225.75 L223.10,217.90" stroke="#A8E23A"/>
<path d="M84.30,240.30 L87.90,241.40 L90.30,242.70 L91.90,241.90 L93.50,246.80 L96.00,248.40 L97.60,246.80 L99.20,250.80 L100.80,254.11 L103.30,252.54 L104.90,256.56 L106.50,258.18 L108.20,261.50 L109.80,268.02 L111.40,264.74 L113.80,263.97 L116.30,260.00 L118.70,255.93 L120.60,255.76 L121.60,257.29 L122.40,261.41 L123.40,259.44 L124.70,262.17 L125.40,266.19 L126.80,256.12 L127.80,258.84 L128.80,264.97 L130.10,259.60 L132.20,260.25 L133.50,263.69 L134.90,267.82 L136.20,264.45 L137.60,261.09 L138.40,262.41 L139.10,264.63 L140.20,267.38 L141.20,270.80 L142.30,273.64 L143.40,272.18 L144.50,275.21 L146.10,275.21 L147.20,267.45 L148.80,267.95 L150.40,265.92 L151.70,267.58 L153.10,265.55 L154.20,262.31 L155.80,261.81 L156.70,264.47 L157.70,274.12 L158.50,277.88 L159.60,272.92 L160.60,267.53 L161.70,268.69 L162.80,272.54 L163.90,272.00 L164.70,265.04 L165.70,272.16 L166.60,274.99 L168.20,275.23 L169.30,276.50 L170.40,282.58 L171.40,291.78 L172.10,297.52 L173.40,305.18 L174.50,304.70 L175.40,311.52 L176.80,315.24 L177.70,306.96 L178.80,288.54 L179.90,298.42 L180.80,316.00 L182.60,314.00 L183.90,316.00 L184.90,320.00 L186.20,310.42 L187.60,301.41 L188.90,298.52 L191.00,299.10 L193.00,302.50 L195.00,311.40 L196.40,312.66 L197.60,302.64 L199.60,288.84 L201.70,288.03 L203.80,283.72 L205.70,274.70 L207.70,265.00 L209.30,256.90 L211.40,253.60 L213.50,250.40 L215.10,249.42 L216.30,252.42 L217.40,264.06 L218.70,283.61 L219.50,295.10 L220.30,274.02 L221.10,252.17 L221.60,242.35 L222.20,225.20 L223.10,217.40" stroke="#3CE03C"/>
<path d="M84.30,239.93 L87.90,241.03 L90.30,242.32 L91.90,241.53 L93.50,246.43 L96.00,248.03 L97.60,246.43 L99.20,250.43 L100.80,253.73 L103.30,252.16 L104.90,256.17 L106.50,257.79 L108.20,261.10 L109.80,267.62 L111.40,264.33 L113.80,263.55 L116.30,259.58 L118.70,255.50 L120.60,255.32 L121.60,256.84 L122.40,260.96 L123.40,258.98 L124.70,261.70 L125.40,265.71 L126.80,255.64 L127.80,258.36 L128.80,264.48 L130.10,259.10 L132.20,259.74 L133.50,263.17 L134.90,267.29 L136.20,263.92 L137.60,260.54 L138.40,261.86 L139.10,264.07 L140.20,266.81 L141.20,270.20 L142.30,273.00 L143.40,271.51 L144.50,274.51 L146.10,274.46 L147.20,266.66 L148.80,267.11 L150.40,265.04 L151.70,266.69 L153.10,264.64 L154.20,261.38 L155.80,260.88 L156.70,263.55 L157.70,273.21 L158.50,276.98 L159.60,272.04 L160.60,266.65 L161.70,267.79 L162.80,271.63 L163.90,271.07 L164.70,264.10 L165.70,271.19 L166.60,273.99 L168.20,274.17 L169.30,275.40 L170.40,281.44 L171.40,290.58 L172.10,296.29 L173.40,303.88 L174.50,303.35 L175.40,310.17 L176.80,313.96 L177.70,305.72 L178.80,287.36 L179.90,297.29 L180.80,314.88 L182.60,312.88 L183.90,314.88 L184.90,318.88 L186.20,309.34 L187.60,300.38 L188.90,297.54 L191.00,298.15 L193.00,301.53 L195.00,310.40 L196.40,311.52 L197.60,301.38 L199.60,287.38 L201.70,286.57 L203.80,282.31 L205.70,273.32 L207.70,263.62 L209.30,255.53 L211.40,252.22 L213.50,249.03 L215.10,248.09 L216.30,251.14 L217.40,262.92 L218.70,282.83 L219.50,294.70 L220.30,273.62 L221.10,251.56 L221.60,241.76 L222.20,224.65 L223.10,216.90" stroke="#5CD6E4"/>
<path d="M84.30,239.55 L87.90,240.65 L90.30,241.95 L91.90,241.15 L93.50,246.05 L96.00,247.65 L97.60,246.05 L99.20,250.05 L100.80,253.35 L103.30,251.77 L104.90,255.78 L106.50,257.39 L108.20,260.70 L109.80,267.21 L111.40,263.92 L113.80,263.14 L116.30,259.15 L118.70,255.07 L120.60,254.88 L121.60,256.39 L122.40,260.50 L123.40,258.52 L124.70,261.23 L125.40,265.24 L126.80,255.16 L127.80,257.87 L128.80,263.99 L130.10,258.60 L132.20,259.23 L133.50,262.64 L134.90,266.76 L136.20,263.38 L137.60,260.00 L138.40,261.31 L139.10,263.51 L140.20,266.24 L141.20,269.60 L142.30,272.37 L143.40,270.84 L144.50,273.81 L146.10,273.71 L147.20,265.88 L148.80,266.28 L150.40,264.16 L151.70,265.79 L153.10,263.73 L154.20,260.46 L155.80,259.96 L156.70,262.63 L157.70,272.31 L158.50,276.09 L159.60,271.16 L160.60,265.76 L161.70,266.89 L162.80,270.72 L163.90,270.15 L164.70,263.17 L165.70,270.23 L166.60,273.00 L168.20,273.12 L169.30,274.30 L170.40,280.29 L171.40,289.39 L172.10,295.06 L173.40,302.59 L174.50,302.00 L175.40,308.81 L176.80,312.67 L177.70,304.48 L178.80,286.17 L179.90,296.16 L180.80,313.75 L182.60,311.75 L183.90,313.75 L184.90,317.75 L186.20,308.26 L187.60,299.36 L188.90,296.56 L191.00,297.20 L193.00,300.55 L195.00,309.40 L196.40,310.38 L197.60,300.12 L199.60,285.92 L201.70,285.12 L203.80,280.91 L205.70,271.95 L207.70,262.25 L209.30,254.15 L211.40,250.85 L213.50,247.65 L215.10,246.76 L216.30,249.86 L217.40,261.78 L218.70,282.06 L219.50,294.30 L220.30,273.21 L221.10,250.94 L221.60,241.18 L222.20,224.10 L223.10,216.40" stroke="#4A9CF2"/>
<path d="M84.30,239.18 L87.90,240.28 L90.30,241.57 L91.90,240.78 L93.50,245.68 L96.00,247.28 L97.60,245.68 L99.20,249.68 L100.80,252.98 L103.30,251.39 L104.90,255.39 L106.50,257.00 L108.20,260.30 L109.80,266.81 L111.40,263.51 L113.80,262.72 L116.30,258.73 L118.70,254.63 L120.60,254.44 L121.60,255.95 L122.40,260.05 L123.40,258.06 L124.70,260.77 L125.40,264.77 L126.80,254.68 L127.80,257.39 L128.80,263.49 L130.10,258.10 L132.20,258.71 L133.50,262.12 L134.90,266.23 L136.20,262.84 L137.60,259.45 L138.40,260.75 L139.10,262.96 L140.20,265.67 L141.20,269.00 L142.30,271.73 L143.40,270.17 L144.50,273.10 L146.10,272.95 L147.20,265.09 L148.80,265.44 L150.40,263.28 L151.70,264.90 L153.10,262.81 L154.20,259.53 L155.80,259.03 L156.70,261.72 L157.70,271.40 L158.50,275.19 L159.60,270.28 L160.60,264.88 L161.70,266.00 L162.80,269.81 L163.90,269.22 L164.70,262.23 L165.70,269.26 L166.60,272.00 L168.20,272.06 L169.30,273.20 L170.40,279.14 L171.40,288.19 L172.10,293.83 L173.40,301.30 L174.50,300.65 L175.40,307.46 L176.80,311.39 L177.70,303.24 L178.80,284.99 L179.90,295.03 L180.80,312.62 L182.60,310.62 L183.90,312.62 L184.90,316.62 L186.20,307.18 L187.60,298.33 L188.90,295.58 L191.00,296.25 L193.00,299.58 L195.00,308.40 L196.40,309.24 L197.60,298.86 L199.60,284.46 L201.70,283.66 L203.80,279.50 L205.70,270.57 L207.70,260.88 L209.30,252.78 L211.40,249.47 L213.50,246.28 L215.10,245.43 L216.30,248.58 L217.40,260.64 L218.70,281.28 L219.50,293.90 L220.30,272.81 L221.10,250.32 L221.60,240.59 L222.20,223.55 L223.10,215.90" stroke="#8878F0"/>
<path d="M84.30,238.80 L87.90,239.90 L90.30,241.20 L91.90,240.40 L93.50,245.30 L96.00,246.90 L97.60,245.30 L99.20,249.30 L100.80,252.60 L103.30,251.00 L104.90,255.00 L106.50,256.60 L108.20,259.90 L109.80,266.40 L111.40,263.10 L113.80,262.30 L116.30,258.30 L118.70,254.20 L120.60,254.00 L121.60,255.50 L122.40,259.60 L123.40,257.60 L124.70,260.30 L125.40,264.30 L126.80,254.20 L127.80,256.90 L128.80,263.00 L130.10,257.60 L132.20,258.20 L133.50,261.60 L134.90,265.70 L136.20,262.30 L137.60,258.90 L138.40,260.20 L139.10,262.40 L140.20,265.10 L141.20,268.40 L142.30,271.10 L143.40,269.50 L144.50,272.40 L146.10,272.20 L147.20,264.30 L148.80,264.60 L150.40,262.40 L151.70,264.00 L153.10,261.90 L154.20,258.60 L155.80,258.10 L156.70,260.80 L157.70,270.50 L158.50,274.30 L159.60,269.40 L160.60,264.00 L161.70,265.10 L162.80,268.90 L163.90,268.30 L164.70,261.30 L165.70,268.30 L166.60,271.00 L168.20,271.00 L169.30,272.10 L170.40,278.00 L171.40,287.00 L172.10,292.60 L173.40,300.00 L174.50,299.30 L175.40,306.10 L176.80,310.10 L177.70,302.00 L178.80,283.80 L179.90,293.90 L180.80,311.50 L182.60,309.50 L183.90,311.50 L184.90,315.50 L186.20,306.10 L187.60,297.30 L188.90,294.60 L191.00,295.30 L193.00,298.60 L195.00,307.40 L196.40,308.10 L197.60,297.60 L199.60,283.00 L201.70,282.20 L203.80,278.10 L205.70,269.20 L207.70,259.50 L209.30,251.40 L211.40,248.10 L213.50,244.90 L215.10,244.10 L216.30,247.30 L217.40,259.50 L218.70,280.50 L219.50,293.50 L220.30,272.40 L221.10,249.70 L221.60,240.00 L222.20,223.00 L223.10,215.40" stroke="#9A3CF8" stroke-width="1.6"/>
</g>
<line x1="110.60" y1="256.60" x2="110.60" y2="271.20" stroke="#222" stroke-width="0.80" />
<line x1="84.00" y1="197.50" x2="84.00" y2="345.30" stroke="#111" stroke-width="1.40" />
<line x1="84.00" y1="345.30" x2="223.80" y2="345.30" stroke="#111" stroke-width="1.40" />
<line x1="81.60" y1="199.00" x2="84.00" y2="199.00" stroke="#111" stroke-width="1.00" />
<text x="82.20" y="201.50" font-size="7.30" text-anchor="end" font-weight="bold" fill="#111" font-family="Liberation Sans" font-style="normal" stroke="#111" stroke-width="0.22" >1.00</text>
<line x1="82.60" y1="217.25" x2="84.00" y2="217.25" stroke="#111" stroke-width="0.90" />
<line x1="81.60" y1="235.50" x2="84.00" y2="235.50" stroke="#111" stroke-width="1.00" />
<text x="82.20" y="238.00" font-size="7.30" text-anchor="end" font-weight="bold" fill="#111" font-family="Liberation Sans" font-style="normal" stroke="#111" stroke-width="0.22" >0.80</text>
<line x1="82.60" y1="253.75" x2="84.00" y2="253.75" stroke="#111" stroke-width="0.90" />
<line x1="81.60" y1="272.00" x2="84.00" y2="272.00" stroke="#111" stroke-width="1.00" />
<text x="82.20" y="274.50" font-size="7.30" text-anchor="end" font-weight="bold" fill="#111" font-family="Liberation Sans" font-style="normal" stroke="#111" stroke-width="0.22" >0.60</text>
<line x1="82.60" y1="290.25" x2="84.00" y2="290.25" stroke="#111" stroke-width="0.90" />
<line x1="81.60" y1="308.50" x2="84.00" y2="308.50" stroke="#111" stroke-width="1.00" />
<text x="82.20" y="311.00" font-size="7.30" text-anchor="end" font-weight="bold" fill="#111" font-family="Liberation Sans" font-style="normal" stroke="#111" stroke-width="0.22" >0.40</text>
<line x1="82.60" y1="326.75" x2="84.00" y2="326.75" stroke="#111" stroke-width="0.90" />
<line x1="81.60" y1="345.00" x2="84.00" y2="345.00" stroke="#111" stroke-width="1.00" />
<text x="82.20" y="347.50" font-size="7.30" text-anchor="end" font-weight="bold" fill="#111" font-family="Liberation Sans" font-style="normal" stroke="#111" stroke-width="0.22" >0.20</text>
<line x1="100.60" y1="345.30" x2="100.60" y2="347.50" stroke="#111" stroke-width="1.00" />
<text x="100.60" y="354.50" font-size="7.80" text-anchor="middle" font-weight="bold" fill="#111" font-family="Liberation Sans" font-style="normal" stroke="#111" stroke-width="0.22" >1700</text>
<line x1="118.53" y1="345.30" x2="118.53" y2="346.80" stroke="#111" stroke-width="1.00" />
<line x1="136.46" y1="345.30" x2="136.46" y2="347.50" stroke="#111" stroke-width="1.00" />
<text x="136.46" y="354.50" font-size="7.80" text-anchor="middle" font-weight="bold" fill="#111" font-family="Liberation Sans" font-style="normal" stroke="#111" stroke-width="0.22" >1500</text>
<line x1="154.39" y1="345.30" x2="154.39" y2="346.80" stroke="#111" stroke-width="1.00" />
<line x1="172.32" y1="345.30" x2="172.32" y2="347.50" stroke="#111" stroke-width="1.00" />
<text x="172.32" y="354.50" font-size="7.80" text-anchor="middle" font-weight="bold" fill="#111" font-family="Liberation Sans" font-style="normal" stroke="#111" stroke-width="0.22" >1300</text>
<line x1="190.25" y1="345.30" x2="190.25" y2="346.80" stroke="#111" stroke-width="1.00" />
<line x1="208.18" y1="345.30" x2="208.18" y2="347.50" stroke="#111" stroke-width="1.00" />
<text x="208.18" y="354.50" font-size="7.80" text-anchor="middle" font-weight="bold" fill="#111" font-family="Liberation Sans" font-style="normal" stroke="#111" stroke-width="0.22" >1100</text>
<text x="75.40" y="367.20" font-size="10.90" text-anchor="start" font-weight="bold" fill="#111" font-family="Liberation Sans" font-style="normal" stroke="#111" stroke-width="0.22" >Wavenumber (cm<tspan font-size="6.6" dy="-3.8">-1</tspan><tspan dy="3.8">)</tspan></text>
<text x="0.00" y="0.00" font-size="9.90" text-anchor="middle" font-weight="bold" fill="#111" font-family="Liberation Sans" font-style="normal" stroke="#111" stroke-width="0.22" transform="translate(22.4,272.4) rotate(-90)">Transmittance</text>
<line x1="89.70" y1="279.70" x2="96.60" y2="279.70" stroke="#F22B2B" stroke-width="1.40" />
<text x="99.30" y="281.90" font-size="6.20" text-anchor="start" font-weight="bold" fill="#111" font-family="Liberation Sans" font-style="normal" stroke="#111" stroke-width="0.22" >1 min</text>
<line x1="89.70" y1="286.77" x2="96.60" y2="286.77" stroke="#F0507E" stroke-width="1.40" />
<text x="99.30" y="288.97" font-size="6.20" text-anchor="start" font-weight="bold" fill="#111" font-family="Liberation Sans" font-style="normal" stroke="#111" stroke-width="0.22" >2 min</text>
<line x1="89.70" y1="293.84" x2="96.60" y2="293.84" stroke="#F29A38" stroke-width="1.40" />
<text x="99.30" y="296.04" font-size="6.20" text-anchor="start" font-weight="bold" fill="#111" font-family="Liberation Sans" font-style="normal" stroke="#111" stroke-width="0.22" >3 min</text>
<line x1="89.70" y1="300.91" x2="96.60" y2="300.91" stroke="#A8E23A" stroke-width="1.40" />
<text x="99.30" y="303.11" font-size="6.20" text-anchor="start" font-weight="bold" fill="#111" font-family="Liberation Sans" font-style="normal" stroke="#111" stroke-width="0.22" >4 min</text>
<line x1="89.70" y1="307.98" x2="96.60" y2="307.98" stroke="#3CE03C" stroke-width="1.40" />
<text x="99.30" y="310.18" font-size="6.20" text-anchor="start" font-weight="bold" fill="#111" font-family="Liberation Sans" font-style="normal" stroke="#111" stroke-width="0.22" >5 min</text>
<line x1="89.70" y1="315.05" x2="96.60" y2="315.05" stroke="#5CD6E4" stroke-width="1.40" />
<text x="99.30" y="317.25" font-size="6.20" text-anchor="start" font-weight="bold" fill="#111" font-family="Liberation Sans" font-style="normal" stroke="#111" stroke-width="0.22" >6 min</text>
<line x1="89.70" y1="322.12" x2="96.60" y2="322.12" stroke="#4A9CF2" stroke-width="1.40" />
<text x="99.30" y="324.32" font-size="6.20" text-anchor="start" font-weight="bold" fill="#111" font-family="Liberation Sans" font-style="normal" stroke="#111" stroke-width="0.22" >7 min</text>
<line x1="89.70" y1="329.19" x2="96.60" y2="329.19" stroke="#8878F0" stroke-width="1.40" />
<text x="99.30" y="331.39" font-size="6.20" text-anchor="start" font-weight="bold" fill="#111" font-family="Liberation Sans" font-style="normal" stroke="#111" stroke-width="0.22" >8 min</text>
<line x1="89.70" y1="336.26" x2="96.60" y2="336.26" stroke="#9A3CF8" stroke-width="1.40" />
<text x="99.30" y="338.46" font-size="6.20" text-anchor="start" font-weight="bold" fill="#111" font-family="Liberation Sans" font-style="normal" stroke="#111" stroke-width="0.22" >9 min</text>
<text x="101.20" y="242.30" font-size="7.70" text-anchor="start" font-weight="bold" fill="#111" font-family="Liberation Sans" font-style="normal" stroke="#111" stroke-width="0.22" ><tspan font-family="Liberation Serif" font-style="italic" font-weight="bold">&#957;</tspan><tspan font-weight="normal" dx="0.9">(C=O)</tspan></text>
<text x="197.60" y="333.50" font-size="7.70" text-anchor="start" font-weight="bold" fill="#111" font-family="Liberation Sans" font-style="normal" stroke="#111" stroke-width="0.22" ><tspan font-family="Liberation Serif" font-style="italic" font-weight="bold">&#957;</tspan><tspan font-weight="normal" dx="0.9">(C&#8722;F)</tspan></text>
<line x1="211.00" y1="323.70" x2="211.00" y2="283.00" stroke="#E0407A" stroke-width="0.90" stroke-dasharray="1.2,1"/>
<path d="M209.4,284.4 L211,280.2 L212.6,284.4 Z" fill="#E0407A"/>
<text x="-1.2" y="179.2" font-size="11.5" font-weight="bold" font-family="Liberation Serif" fill="#000">e</text>
<path d="M268.80,338.60 L286.55,235.57 L304.30,292.71 L339.80,318.93 L375.31,338.60 L410.81,338.60 L446.31,338.60" fill="none" stroke="#1EB4E8" stroke-width="1.4" stroke-dasharray="3.3,2.2"/>
<path d="M268.80,338.60 L286.55,227.61 L304.30,205.13 L339.80,302.07 L375.31,338.60 L410.81,338.60 L446.31,338.60" fill="none" stroke="#E04A5F" stroke-width="1.4" stroke-dasharray="3.3,2.2"/>
<path d="M268.80,338.60 L286.55,299.26 L304.30,249.15 L339.80,303.01 L375.31,337.20 L410.81,338.60 L446.31,338.60" fill="none" stroke="#3DB35A" stroke-width="1.4" stroke-dasharray="3.3,2.2"/>
<path d="M268.80,338.60 L286.55,315.65 L304.30,283.34 L339.80,303.95 L375.31,315.19 L410.81,336.73 L446.31,338.60" fill="none" stroke="#5A6ABF" stroke-width="1.4" stroke-dasharray="3.3,2.2"/>
<path d="M268.80,338.60 L286.55,319.40 L304.30,266.95 L339.80,297.39 L375.31,291.77 L410.81,319.40 L446.31,338.60" fill="none" stroke="#E5C416" stroke-width="1.4" stroke-dasharray="3.3,2.2"/>
<path d="M268.80,338.60 L286.55,332.51 L304.30,327.36 L339.80,318.93 L375.31,300.20 L410.81,328.77 L446.31,338.60" fill="none" stroke="#D9508F" stroke-width="1.4" stroke-dasharray="3.3,2.2"/>
<rect x="266.05" y="335.85" width="5.50" height="5.50" fill="#1EB4E8"/>
<rect x="283.80" y="232.82" width="5.50" height="5.50" fill="#1EB4E8"/>
<rect x="301.55" y="289.96" width="5.50" height="5.50" fill="#1EB4E8"/>
<rect x="337.05" y="316.18" width="5.50" height="5.50" fill="#1EB4E8"/>
<rect x="372.56" y="335.85" width="5.50" height="5.50" fill="#1EB4E8"/>
<rect x="408.06" y="335.85" width="5.50" height="5.50" fill="#1EB4E8"/>
<rect x="443.56" y="335.85" width="5.50" height="5.50" fill="#1EB4E8"/>
<circle cx="268.80" cy="338.60" r="3.41" fill="#E04A5F"/>
<circle cx="286.55" cy="227.61" r="3.41" fill="#E04A5F"/>
<circle cx="304.30" cy="205.13" r="3.41" fill="#E04A5F"/>
<circle cx="339.80" cy="302.07" r="3.41" fill="#E04A5F"/>
<circle cx="375.31" cy="338.60" r="3.41" fill="#E04A5F"/>
<circle cx="410.81" cy="338.60" r="3.41" fill="#E04A5F"/>
<circle cx="446.31" cy="338.60" r="3.41" fill="#E04A5F"/>
<path d="M268.80,334.64 L272.56,341.06 L265.04,341.06 Z" fill="#3DB35A"/>
<path d="M286.55,295.30 L290.31,301.72 L282.79,301.72 Z" fill="#3DB35A"/>
<path d="M304.30,245.19 L308.06,251.61 L300.54,251.61 Z" fill="#3DB35A"/>
<path d="M339.80,299.05 L343.57,305.46 L336.04,305.46 Z" fill="#3DB35A"/>
<path d="M375.31,333.24 L379.07,339.65 L371.54,339.65 Z" fill="#3DB35A"/>
<path d="M410.81,334.64 L414.57,341.06 L407.05,341.06 Z" fill="#3DB35A"/>
<path d="M446.31,334.64 L450.07,341.06 L442.55,341.06 Z" fill="#3DB35A"/>
<path d="M268.80,342.56 L272.56,336.14 L265.04,336.14 Z" fill="#5A6ABF"/>
<path d="M286.55,319.61 L290.31,313.20 L282.79,313.20 Z" fill="#5A6ABF"/>
<path d="M304.30,287.30 L308.06,280.89 L300.54,280.89 Z" fill="#5A6ABF"/>
<path d="M339.80,307.91 L343.57,301.49 L336.04,301.49 Z" fill="#5A6ABF"/>
<path d="M375.31,319.14 L379.07,312.73 L371.54,312.73 Z" fill="#5A6ABF"/>
<path d="M410.81,340.69 L414.57,334.27 L407.05,334.27 Z" fill="#5A6ABF"/>
<path d="M446.31,342.56 L450.07,336.14 L442.55,336.14 Z" fill="#5A6ABF"/>
<path d="M268.80,334.53 L272.87,338.60 L268.80,342.67 L264.73,338.60 Z" fill="#E5C416"/>
<path d="M286.55,315.33 L290.62,319.40 L286.55,323.47 L282.48,319.40 Z" fill="#E5C416"/>
<path d="M304.30,262.88 L308.37,266.95 L304.30,271.02 L300.23,266.95 Z" fill="#E5C416"/>
<path d="M339.80,293.32 L343.87,297.39 L339.80,301.46 L335.73,297.39 Z" fill="#E5C416"/>
<path d="M375.31,287.70 L379.38,291.77 L375.31,295.84 L371.24,291.77 Z" fill="#E5C416"/>
<path d="M410.81,315.33 L414.88,319.40 L410.81,323.47 L406.74,319.40 Z" fill="#E5C416"/>
<path d="M446.31,334.53 L450.38,338.60 L446.31,342.67 L442.24,338.60 Z" fill="#E5C416"/>
<path d="M264.84,338.60 L271.26,334.84 L271.26,342.36 Z" fill="#D9508F"/>
<path d="M282.59,332.51 L289.01,328.75 L289.01,336.27 Z" fill="#D9508F"/>
<path d="M300.34,327.36 L306.76,323.60 L306.76,331.12 Z" fill="#D9508F"/>
<path d="M335.84,318.93 L342.26,315.17 L342.26,322.69 Z" fill="#D9508F"/>
<path d="M371.35,300.20 L377.76,296.44 L377.76,303.96 Z" fill="#D9508F"/>
<path d="M406.85,328.77 L413.26,325.00 L413.26,332.53 Z" fill="#D9508F"/>
<path d="M442.35,338.60 L448.77,334.84 L448.77,342.36 Z" fill="#D9508F"/>
<rect x="264.20" y="193.20" width="187.10" height="150.30" fill="none" stroke="#111" stroke-width="1.35"/>
<line x1="261.40" y1="338.60" x2="264.20" y2="338.60" stroke="#111" stroke-width="1.20" />
<text x="259.60" y="341.60" font-size="8.90" text-anchor="end" font-weight="bold" fill="#111" font-family="Liberation Sans" font-style="normal" stroke="#111" stroke-width="0.22" >0.000</text>
<line x1="261.40" y1="310.50" x2="264.20" y2="310.50" stroke="#111" stroke-width="1.20" />
<text x="259.60" y="313.50" font-size="8.90" text-anchor="end" font-weight="bold" fill="#111" font-family="Liberation Sans" font-style="normal" stroke="#111" stroke-width="0.22" >0.006</text>
<line x1="261.40" y1="282.40" x2="264.20" y2="282.40" stroke="#111" stroke-width="1.20" />
<text x="259.60" y="285.40" font-size="8.90" text-anchor="end" font-weight="bold" fill="#111" font-family="Liberation Sans" font-style="normal" stroke="#111" stroke-width="0.22" >0.012</text>
<line x1="261.40" y1="254.31" x2="264.20" y2="254.31" stroke="#111" stroke-width="1.20" />
<text x="259.60" y="257.31" font-size="8.90" text-anchor="end" font-weight="bold" fill="#111" font-family="Liberation Sans" font-style="normal" stroke="#111" stroke-width="0.22" >0.018</text>
<line x1="261.40" y1="226.21" x2="264.20" y2="226.21" stroke="#111" stroke-width="1.20" />
<text x="259.60" y="229.21" font-size="8.90" text-anchor="end" font-weight="bold" fill="#111" font-family="Liberation Sans" font-style="normal" stroke="#111" stroke-width="0.22" >0.024</text>
<line x1="261.40" y1="198.11" x2="264.20" y2="198.11" stroke="#111" stroke-width="1.20" />
<text x="259.60" y="201.11" font-size="8.90" text-anchor="end" font-weight="bold" fill="#111" font-family="Liberation Sans" font-style="normal" stroke="#111" stroke-width="0.22" >0.030</text>
<line x1="268.80" y1="343.50" x2="268.80" y2="346.30" stroke="#111" stroke-width="1.20" />
<text x="268.80" y="356.40" font-size="9.20" text-anchor="middle" font-weight="bold" fill="#111" font-family="Liberation Sans" font-style="normal" stroke="#111" stroke-width="0.22" >0</text>
<line x1="304.30" y1="343.50" x2="304.30" y2="346.30" stroke="#111" stroke-width="1.20" />
<text x="304.30" y="356.40" font-size="9.20" text-anchor="middle" font-weight="bold" fill="#111" font-family="Liberation Sans" font-style="normal" stroke="#111" stroke-width="0.22" >60</text>
<line x1="339.80" y1="343.50" x2="339.80" y2="346.30" stroke="#111" stroke-width="1.20" />
<text x="339.80" y="356.40" font-size="9.20" text-anchor="middle" font-weight="bold" fill="#111" font-family="Liberation Sans" font-style="normal" stroke="#111" stroke-width="0.22" >120</text>
<line x1="375.31" y1="343.50" x2="375.31" y2="346.30" stroke="#111" stroke-width="1.20" />
<text x="375.31" y="356.40" font-size="9.20" text-anchor="middle" font-weight="bold" fill="#111" font-family="Liberation Sans" font-style="normal" stroke="#111" stroke-width="0.22" >180</text>
<line x1="410.81" y1="343.50" x2="410.81" y2="346.30" stroke="#111" stroke-width="1.20" />
<text x="410.81" y="356.40" font-size="9.20" text-anchor="middle" font-weight="bold" fill="#111" font-family="Liberation Sans" font-style="normal" stroke="#111" stroke-width="0.22" >240</text>
<line x1="446.31" y1="343.50" x2="446.31" y2="346.30" stroke="#111" stroke-width="1.20" />
<text x="446.31" y="356.40" font-size="9.20" text-anchor="middle" font-weight="bold" fill="#111" font-family="Liberation Sans" font-style="normal" stroke="#111" stroke-width="0.22" >300</text>
<text x="354.00" y="367.10" font-size="10.40" text-anchor="middle" font-weight="bold" fill="#111" font-family="Liberation Sans" font-style="normal" stroke="#111" stroke-width="0.22" >Time (min)</text>
<text x="0.00" y="0.00" font-size="10.40" text-anchor="middle" font-weight="bold" fill="#111" font-family="Liberation Sans" font-style="normal" stroke="#111" stroke-width="0.22" transform="translate(235.1,268.9) rotate(-90)">n (mmol)</text>
<line x1="390.70" y1="202.60" x2="393.60" y2="202.60" stroke="#1EB4E8" stroke-width="1.40" />
<line x1="404.80" y1="202.60" x2="407.70" y2="202.60" stroke="#1EB4E8" stroke-width="1.40" />
<rect x="397.48" y="199.97" width="5.25" height="5.25" fill="#1EB4E8"/>
<text x="414.90" y="205.60" font-size="8.30" text-anchor="start" font-weight="bold" fill="#111" font-family="Liberation Sans" font-style="normal" stroke="#111" stroke-width="0.22" >PFHpA</text>
<line x1="390.70" y1="213.40" x2="393.60" y2="213.40" stroke="#E04A5F" stroke-width="1.40" />
<line x1="404.80" y1="213.40" x2="407.70" y2="213.40" stroke="#E04A5F" stroke-width="1.40" />
<circle cx="400.10" cy="213.40" r="3.26" fill="#E04A5F"/>
<text x="414.90" y="216.40" font-size="8.30" text-anchor="start" font-weight="bold" fill="#111" font-family="Liberation Sans" font-style="normal" stroke="#111" stroke-width="0.22" >PFHxA</text>
<line x1="390.70" y1="223.90" x2="393.60" y2="223.90" stroke="#3DB35A" stroke-width="1.40" />
<line x1="404.80" y1="223.90" x2="407.70" y2="223.90" stroke="#3DB35A" stroke-width="1.40" />
<path d="M400.10,220.12 L403.69,226.24 L396.51,226.24 Z" fill="#3DB35A"/>
<text x="414.90" y="226.90" font-size="8.30" text-anchor="start" font-weight="bold" fill="#111" font-family="Liberation Sans" font-style="normal" stroke="#111" stroke-width="0.22" >PFPeA</text>
<line x1="390.70" y1="234.70" x2="393.60" y2="234.70" stroke="#5A6ABF" stroke-width="1.40" />
<line x1="404.80" y1="234.70" x2="407.70" y2="234.70" stroke="#5A6ABF" stroke-width="1.40" />
<path d="M400.10,238.48 L403.69,232.36 L396.51,232.36 Z" fill="#5A6ABF"/>
<text x="414.90" y="237.70" font-size="8.30" text-anchor="start" font-weight="bold" fill="#111" font-family="Liberation Sans" font-style="normal" stroke="#111" stroke-width="0.22" >PFBA</text>
<line x1="390.70" y1="245.50" x2="393.60" y2="245.50" stroke="#E5C416" stroke-width="1.40" />
<line x1="404.80" y1="245.50" x2="407.70" y2="245.50" stroke="#E5C416" stroke-width="1.40" />
<path d="M400.10,241.62 L403.99,245.50 L400.10,249.38 L396.22,245.50 Z" fill="#E5C416"/>
<text x="414.90" y="248.50" font-size="8.30" text-anchor="start" font-weight="bold" fill="#111" font-family="Liberation Sans" font-style="normal" stroke="#111" stroke-width="0.22" >PFPrA</text>
<line x1="390.70" y1="255.90" x2="393.60" y2="255.90" stroke="#D9508F" stroke-width="1.40" />
<line x1="404.80" y1="255.90" x2="407.70" y2="255.90" stroke="#D9508F" stroke-width="1.40" />
<path d="M396.32,255.90 L402.44,252.31 L402.44,259.49 Z" fill="#D9508F"/>
<text x="414.90" y="258.90" font-size="8.30" text-anchor="start" font-weight="bold" fill="#111" font-family="Liberation Sans" font-style="normal" stroke="#111" stroke-width="0.22" >TFA</text>
<text x="243.30" y="179.60" font-size="11.5" font-weight="bold" font-family="Liberation Serif" fill="#000">f</text>
<rect x="498.15" y="205.90" width="21.40" height="138.00" fill="#8FD6F0" stroke="#111" stroke-width="1.2"/>
<rect x="525.18" y="301.10" width="21.40" height="42.80" fill="#8FD6F0" stroke="#111" stroke-width="1.2"/>
<rect x="525.18" y="270.20" width="21.40" height="30.90" fill="#8088C6" stroke="#111" stroke-width="1.2"/>
<rect x="525.18" y="208.10" width="21.40" height="62.10" fill="#E48AAE" stroke="#111" stroke-width="1.2"/>
<line x1="535.88" y1="296.30" x2="535.88" y2="305.60" stroke="#333" stroke-width="0.70" />
<line x1="534.38" y1="296.30" x2="537.38" y2="296.30" stroke="#333" stroke-width="0.70" />
<line x1="534.38" y1="305.60" x2="537.38" y2="305.60" stroke="#333" stroke-width="0.70" />
<line x1="535.88" y1="268.30" x2="535.88" y2="272.50" stroke="#333" stroke-width="0.70" />
<line x1="534.38" y1="268.30" x2="537.38" y2="268.30" stroke="#333" stroke-width="0.70" />
<line x1="534.38" y1="272.50" x2="537.38" y2="272.50" stroke="#333" stroke-width="0.70" />
<line x1="535.88" y1="206.90" x2="535.88" y2="209.30" stroke="#333" stroke-width="0.70" />
<line x1="534.38" y1="206.90" x2="537.38" y2="206.90" stroke="#333" stroke-width="0.70" />
<line x1="534.38" y1="209.30" x2="537.38" y2="209.30" stroke="#333" stroke-width="0.70" />
<rect x="552.21" y="336.70" width="21.40" height="7.20" fill="#8FD6F0" stroke="#111" stroke-width="1.2"/>
<rect x="552.21" y="277.00" width="21.40" height="59.70" fill="#8088C6" stroke="#111" stroke-width="1.2"/>
<rect x="552.21" y="205.70" width="21.40" height="71.30" fill="#E48AAE" stroke="#111" stroke-width="1.2"/>
<line x1="562.91" y1="335.60" x2="562.91" y2="337.90" stroke="#333" stroke-width="0.70" />
<line x1="561.41" y1="335.60" x2="564.41" y2="335.60" stroke="#333" stroke-width="0.70" />
<line x1="561.41" y1="337.90" x2="564.41" y2="337.90" stroke="#333" stroke-width="0.70" />
<line x1="562.91" y1="275.30" x2="562.91" y2="279.00" stroke="#333" stroke-width="0.70" />
<line x1="561.41" y1="275.30" x2="564.41" y2="275.30" stroke="#333" stroke-width="0.70" />
<line x1="561.41" y1="279.00" x2="564.41" y2="279.00" stroke="#333" stroke-width="0.70" />
<line x1="562.91" y1="204.50" x2="562.91" y2="206.70" stroke="#333" stroke-width="0.70" />
<line x1="561.41" y1="204.50" x2="564.41" y2="204.50" stroke="#333" stroke-width="0.70" />
<line x1="561.41" y1="206.70" x2="564.41" y2="206.70" stroke="#333" stroke-width="0.70" />
<rect x="579.24" y="236.90" width="21.40" height="107.00" fill="#8088C6" stroke="#111" stroke-width="1.2"/>
<rect x="579.24" y="206.70" width="21.40" height="30.20" fill="#E48AAE" stroke="#111" stroke-width="1.2"/>
<line x1="589.94" y1="235.70" x2="589.94" y2="238.20" stroke="#333" stroke-width="0.70" />
<line x1="588.44" y1="235.70" x2="591.44" y2="235.70" stroke="#333" stroke-width="0.70" />
<line x1="588.44" y1="238.20" x2="591.44" y2="238.20" stroke="#333" stroke-width="0.70" />
<line x1="589.94" y1="205.70" x2="589.94" y2="207.70" stroke="#333" stroke-width="0.70" />
<line x1="588.44" y1="205.70" x2="591.44" y2="205.70" stroke="#333" stroke-width="0.70" />
<line x1="588.44" y1="207.70" x2="591.44" y2="207.70" stroke="#333" stroke-width="0.70" />
<rect x="606.27" y="213.20" width="21.40" height="130.70" fill="#8088C6" stroke="#111" stroke-width="1.2"/>
<rect x="606.27" y="202.80" width="21.40" height="10.40" fill="#E48AAE" stroke="#111" stroke-width="1.2"/>
<line x1="616.97" y1="211.20" x2="616.97" y2="215.30" stroke="#333" stroke-width="0.70" />
<line x1="615.47" y1="211.20" x2="618.47" y2="211.20" stroke="#333" stroke-width="0.70" />
<line x1="615.47" y1="215.30" x2="618.47" y2="215.30" stroke="#333" stroke-width="0.70" />
<line x1="616.97" y1="200.70" x2="616.97" y2="204.50" stroke="#333" stroke-width="0.70" />
<line x1="615.47" y1="200.70" x2="618.47" y2="200.70" stroke="#333" stroke-width="0.70" />
<line x1="615.47" y1="204.50" x2="618.47" y2="204.50" stroke="#333" stroke-width="0.70" />
<rect x="633.30" y="209.20" width="21.40" height="134.70" fill="#8088C6" stroke="#111" stroke-width="1.2"/>
<rect x="633.30" y="206.50" width="21.40" height="2.70" fill="#E48AAE" stroke="#111" stroke-width="1.2"/>
<line x1="644.00" y1="207.60" x2="644.00" y2="210.60" stroke="#333" stroke-width="0.70" />
<line x1="642.50" y1="207.60" x2="645.50" y2="207.60" stroke="#333" stroke-width="0.70" />
<line x1="642.50" y1="210.60" x2="645.50" y2="210.60" stroke="#333" stroke-width="0.70" />
<rect x="660.33" y="206.50" width="21.40" height="137.40" fill="#8088C6" stroke="#111" stroke-width="1.2"/>
<rect x="495.60" y="188.90" width="188.50" height="155.10" fill="none" stroke="#111" stroke-width="1.4"/>
<line x1="492.80" y1="343.90" x2="495.60" y2="343.90" stroke="#111" stroke-width="1.20" />
<text x="490.60" y="346.80" font-size="9.60" text-anchor="end" font-weight="bold" fill="#111" font-family="Liberation Sans" font-style="normal" stroke="#111" stroke-width="0.22" >0.0</text>
<line x1="492.80" y1="316.26" x2="495.60" y2="316.26" stroke="#111" stroke-width="1.20" />
<text x="490.60" y="319.16" font-size="9.60" text-anchor="end" font-weight="bold" fill="#111" font-family="Liberation Sans" font-style="normal" stroke="#111" stroke-width="0.22" >0.2</text>
<line x1="492.80" y1="288.62" x2="495.60" y2="288.62" stroke="#111" stroke-width="1.20" />
<text x="490.60" y="291.52" font-size="9.60" text-anchor="end" font-weight="bold" fill="#111" font-family="Liberation Sans" font-style="normal" stroke="#111" stroke-width="0.22" >0.4</text>
<line x1="492.80" y1="260.98" x2="495.60" y2="260.98" stroke="#111" stroke-width="1.20" />
<text x="490.60" y="263.88" font-size="9.60" text-anchor="end" font-weight="bold" fill="#111" font-family="Liberation Sans" font-style="normal" stroke="#111" stroke-width="0.22" >0.6</text>
<line x1="492.80" y1="233.34" x2="495.60" y2="233.34" stroke="#111" stroke-width="1.20" />
<text x="490.60" y="236.24" font-size="9.60" text-anchor="end" font-weight="bold" fill="#111" font-family="Liberation Sans" font-style="normal" stroke="#111" stroke-width="0.22" >0.8</text>
<line x1="492.80" y1="205.70" x2="495.60" y2="205.70" stroke="#111" stroke-width="1.20" />
<text x="490.60" y="208.60" font-size="9.60" text-anchor="end" font-weight="bold" fill="#111" font-family="Liberation Sans" font-style="normal" stroke="#111" stroke-width="0.22" >1.0</text>
<line x1="508.85" y1="344.00" x2="508.85" y2="346.60" stroke="#111" stroke-width="1.20" />
<text x="508.85" y="355.80" font-size="9.40" text-anchor="middle" font-weight="bold" fill="#111" font-family="Liberation Sans" font-style="normal" stroke="#111" stroke-width="0.22" >0</text>
<line x1="535.88" y1="344.00" x2="535.88" y2="346.60" stroke="#111" stroke-width="1.20" />
<text x="535.88" y="355.80" font-size="9.40" text-anchor="middle" font-weight="bold" fill="#111" font-family="Liberation Sans" font-style="normal" stroke="#111" stroke-width="0.22" >30</text>
<line x1="562.91" y1="344.00" x2="562.91" y2="346.60" stroke="#111" stroke-width="1.20" />
<text x="562.91" y="355.80" font-size="9.40" text-anchor="middle" font-weight="bold" fill="#111" font-family="Liberation Sans" font-style="normal" stroke="#111" stroke-width="0.22" >60</text>
<line x1="589.94" y1="344.00" x2="589.94" y2="346.60" stroke="#111" stroke-width="1.20" />
<text x="589.94" y="355.80" font-size="9.40" text-anchor="middle" font-weight="bold" fill="#111" font-family="Liberation Sans" font-style="normal" stroke="#111" stroke-width="0.22" >120</text>
<line x1="616.97" y1="344.00" x2="616.97" y2="346.60" stroke="#111" stroke-width="1.20" />
<text x="616.97" y="355.80" font-size="9.40" text-anchor="middle" font-weight="bold" fill="#111" font-family="Liberation Sans" font-style="normal" stroke="#111" stroke-width="0.22" >180</text>
<line x1="644.00" y1="344.00" x2="644.00" y2="346.60" stroke="#111" stroke-width="1.20" />
<text x="644.00" y="355.80" font-size="9.40" text-anchor="middle" font-weight="bold" fill="#111" font-family="Liberation Sans" font-style="normal" stroke="#111" stroke-width="0.22" >240</text>
<line x1="671.03" y1="344.00" x2="671.03" y2="346.60" stroke="#111" stroke-width="1.20" />
<text x="671.03" y="355.80" font-size="9.40" text-anchor="middle" font-weight="bold" fill="#111" font-family="Liberation Sans" font-style="normal" stroke="#111" stroke-width="0.22" >300</text>
<text x="587.10" y="368.20" font-size="10.40" text-anchor="middle" font-weight="bold" fill="#111" font-family="Liberation Sans" font-style="normal" stroke="#111" stroke-width="0.22" >Time (min)</text>
<text x="0.00" y="0.00" font-size="10.30" text-anchor="middle" font-weight="bold" fill="#111" font-family="Liberation Sans" font-style="normal" stroke="#111" stroke-width="0.22" transform="translate(473.6,267.9) rotate(-90)">F mass balance</text>
<rect x="504.20" y="191.5" width="16.8" height="8.0" fill="#8FD6F0" stroke="#111" stroke-width="1.0"/>
<text x="525.70" y="198.10" font-size="7.70" text-anchor="start" font-weight="bold" fill="#111" font-family="Liberation Sans" font-style="normal" stroke="#111" stroke-width="0.22" >PFOA</text>
<rect x="555.60" y="191.5" width="16.8" height="8.0" fill="#8088C6" stroke="#111" stroke-width="1.0"/>
<text x="577.00" y="198.10" font-size="7.70" text-anchor="start" font-weight="bold" fill="#111" font-family="Liberation Sans" font-style="normal" stroke="#111" stroke-width="0.22" >F<tspan font-size="5" dy="-3">&#8722;</tspan></text>
<rect x="590.70" y="191.5" width="16.8" height="8.0" fill="#E48AAE" stroke="#111" stroke-width="1.0"/>
<text x="612.00" y="198.10" font-size="7.70" text-anchor="start" font-weight="bold" fill="#111" font-family="Liberation Sans" font-style="normal" stroke="#111" stroke-width="0.22" >Short-chain PFCA</text>
<text x="469.50" y="179.80" font-size="11.5" font-weight="bold" font-family="Liberation Serif" fill="#000">g</text>
</svg>
</body></html>
